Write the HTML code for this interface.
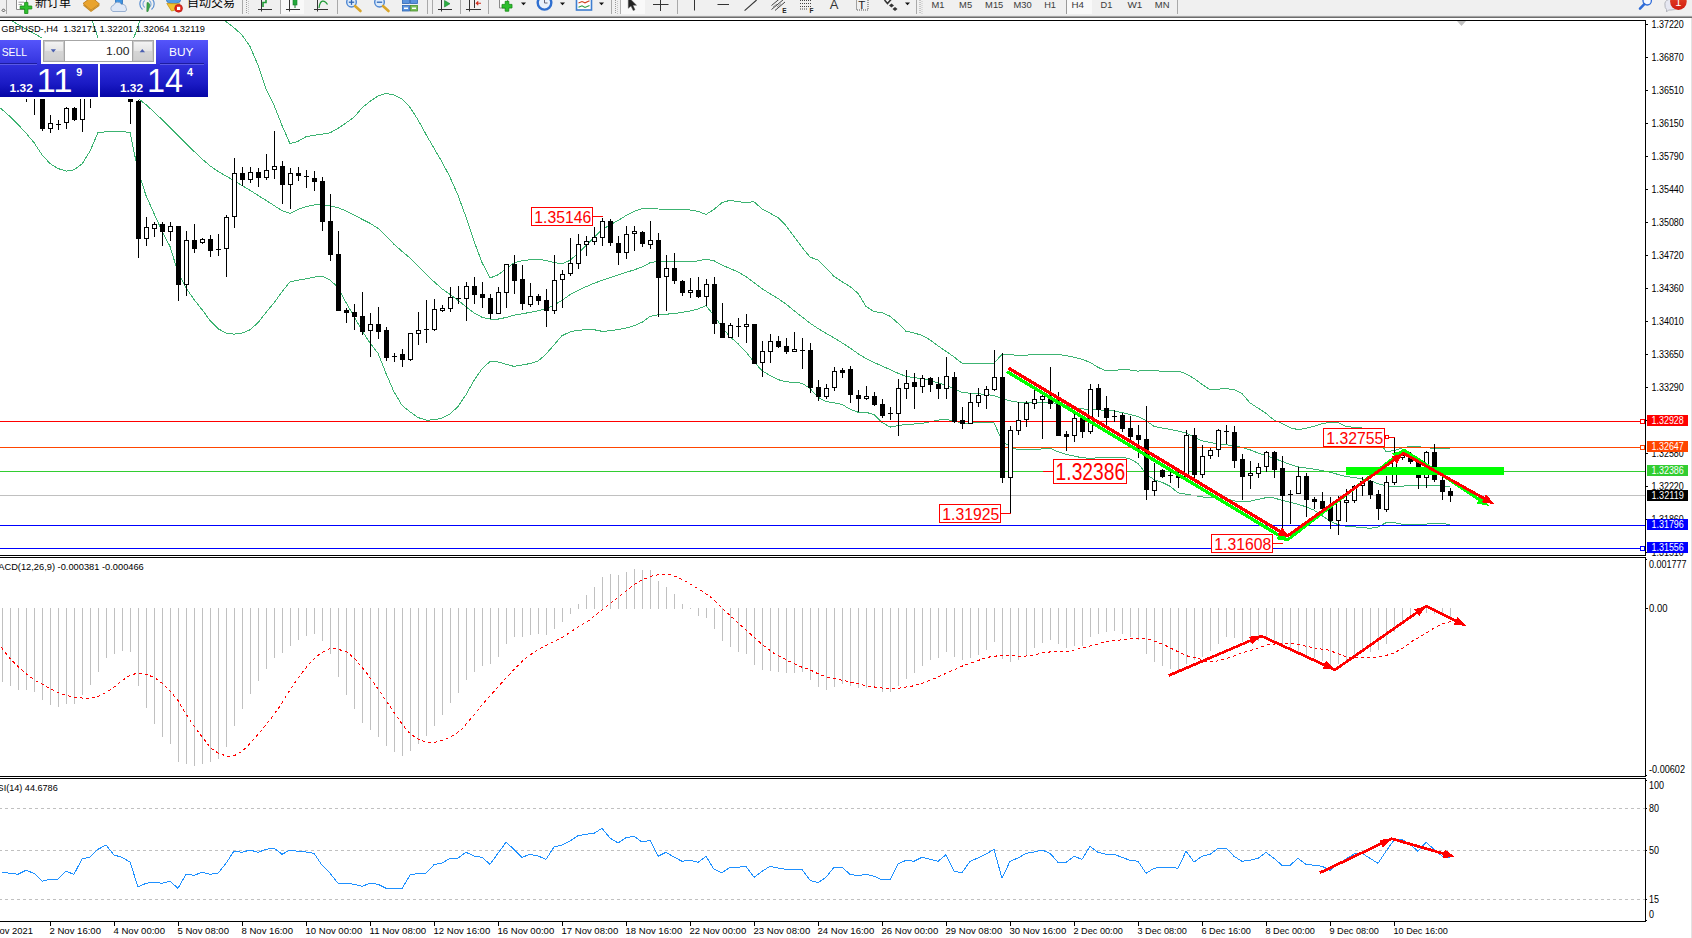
<!DOCTYPE html><html><head><meta charset="utf-8"><title>GBPUSD H4</title>
<style>html,body{margin:0;padding:0;background:#fff;overflow:hidden}svg{display:block;position:absolute;left:0;top:0}text{font-family:'Liberation Sans','Noto Sans CJK SC',sans-serif;white-space:pre}</style></head><body>
<svg width="1692" height="938" viewBox="0 0 1692 938">
<defs>
<linearGradient id="gSell" x1="0" y1="0" x2="0" y2="1"><stop offset="0" stop-color="#5555fb"/><stop offset="1" stop-color="#3434de"/></linearGradient>
<linearGradient id="gPrice" x1="0" y1="0" x2="0" y2="1"><stop offset="0" stop-color="#3030dc"/><stop offset="0.6" stop-color="#1a1ac4"/><stop offset="1" stop-color="#0606a6"/></linearGradient>
<linearGradient id="gBtn" x1="0" y1="0" x2="0" y2="1"><stop offset="0" stop-color="#f4f4f4"/><stop offset="0.5" stop-color="#e4e4e4"/><stop offset="0.5" stop-color="#d6d6d6"/><stop offset="1" stop-color="#cfcfcf"/></linearGradient>
<linearGradient id="gBadge" x1="0" y1="0" x2="0" y2="1"><stop offset="0" stop-color="#e84a2a"/><stop offset="1" stop-color="#d01c10"/></linearGradient>
<clipPath id="cMain"><rect x="0" y="21" width="1645" height="534"/></clipPath>
<clipPath id="cMacd"><rect x="0" y="558" width="1645" height="218"/></clipPath>
<clipPath id="cTb"><rect x="0" y="0" width="1692" height="15"/></clipPath>
<clipPath id="cRsi"><rect x="0" y="779" width="1645" height="142"/></clipPath>
</defs>
<rect x="0" y="0" width="1692" height="938" fill="#fff"/>
<g shape-rendering="crispEdges">
<rect x="0" y="20" width="1646" height="1" fill="#000"/>
<rect x="1645" y="20" width="1" height="902" fill="#000"/>
<rect x="0" y="555" width="1646" height="1" fill="#000"/>
<rect x="0" y="557" width="1646" height="1" fill="#000"/>
<rect x="0" y="776" width="1646" height="1" fill="#000"/>
<rect x="0" y="778" width="1646" height="1" fill="#000"/>
<rect x="0" y="921" width="1646" height="1" fill="#000"/>
<rect x="1691" y="17" width="1" height="921" fill="#e3e3e3"/>
<rect x="1645" y="556" width="1" height="1" fill="#fff"/><rect x="1645" y="777" width="1" height="1" fill="#fff"/>
</g>
<g clip-path="url(#cMain)">
<g shape-rendering="crispEdges">
<polyline points="88.0,8.0 90.0,14.3 98.0,37.7 106.0,57.6 114.0,61.9 122.0,60.0 130.0,48.0 138.0,26.4 143.0,8.0" fill="none" stroke="#3cb371" stroke-width="1"/>
<polyline points="221.0,14.0 226.0,21.5 234.0,27.8 242.0,34.9 250.0,46.5 258.0,65.2 266.0,89.2 274.0,105.3 282.0,125.4 290.0,143.7 298.0,141.3 306.0,136.7 314.0,135.2 322.0,134.2 330.0,132.9 338.0,128.3 346.0,122.9 354.0,117.3 362.0,107.9 370.0,101.4 378.0,96.0 386.0,93.4 394.0,94.9 402.0,98.9 410.0,107.3 418.0,119.8 426.0,134.4 434.0,148.3 442.0,161.9 450.0,177.1 458.0,195.3 466.0,217.0 474.0,241.2 482.0,262.4 490.0,278.0 498.0,274.8 506.0,269.0 514.0,262.8 522.0,260.8 530.0,259.7 538.0,259.2 546.0,260.6 554.0,262.5 562.0,263.9 570.0,260.3 578.0,253.4 586.0,245.4 594.0,237.3 602.0,229.7 610.0,224.8 618.0,220.6 626.0,215.6 634.0,211.3 642.0,208.8 650.0,208.6 658.0,209.0 666.0,209.2 674.0,209.3 682.0,209.5 690.0,210.0 698.0,211.3 706.0,214.5 714.0,209.4 722.0,202.6 730.0,200.3 738.0,201.8 746.0,202.4 754.0,201.8 762.0,208.9 770.0,213.2 778.0,217.7 786.0,225.7 794.0,236.5 802.0,247.2 810.0,257.1 818.0,260.0 826.0,267.7 834.0,276.4 842.0,281.7 850.0,286.5 858.0,293.3 866.0,306.4 874.0,311.7 882.0,312.6 890.0,316.2 898.0,323.2 906.0,331.3 914.0,332.9 922.0,335.4 930.0,339.8 938.0,345.8 946.0,351.3 954.0,356.9 962.0,363.2 970.0,363.6 978.0,363.7 986.0,363.7 994.0,363.3 1002.0,354.2 1010.0,354.7 1018.0,355.3 1026.0,355.2 1034.0,354.4 1042.0,354.2 1050.0,354.2 1058.0,354.3 1066.0,355.6 1074.0,357.2 1082.0,359.3 1090.0,362.3 1098.0,367.4 1106.0,370.8 1114.0,370.4 1122.0,369.7 1130.0,370.0 1138.0,371.1 1146.0,370.1 1154.0,370.1 1162.0,371.7 1170.0,371.5 1178.0,371.1 1186.0,373.8 1194.0,378.5 1202.0,384.3 1210.0,389.6 1218.0,389.2 1226.0,388.5 1234.0,389.7 1242.0,393.5 1250.0,402.9 1258.0,408.1 1266.0,413.4 1274.0,420.1 1282.0,423.3 1290.0,427.7 1298.0,429.6 1306.0,428.3 1314.0,426.4 1322.0,423.8 1330.0,422.1 1338.0,422.4 1346.0,426.5 1354.0,427.3 1362.0,428.0 1370.0,432.0 1378.0,440.0 1386.0,451.4 1394.0,450.8 1402.0,448.1 1410.0,446.4 1418.0,446.6 1426.0,447.8 1434.0,448.2 1442.0,448.2 1449.6,448.2" fill="none" stroke="#3cb371" stroke-width="1"/>
<polyline points="2.0,14.0 10.0,19.7 18.0,24.6 26.0,29.1 34.0,33.4 42.0,38.0 50.0,42.7 58.0,47.3 66.0,51.9 74.0,56.6 82.0,61.2 90.0,66.0 98.0,70.9 106.0,75.9 114.0,81.2 122.0,86.6 130.0,92.2 138.0,98.2 146.0,104.7 154.0,111.9 162.0,119.6 170.0,127.3 178.0,135.5 186.0,143.6 194.0,151.3 202.0,158.9 210.0,165.8 218.0,171.4 226.0,176.0 234.0,180.7 242.0,185.5 250.0,190.3 258.0,195.4 266.0,200.3 274.0,205.5 282.0,210.7 290.0,213.5 298.0,209.4 306.0,206.6 314.0,205.0 322.0,204.8 330.0,206.0 338.0,207.7 346.0,210.9 354.0,215.1 362.0,219.2 370.0,223.3 378.0,228.3 386.0,235.8 394.0,244.3 402.0,251.3 410.0,258.1 418.0,265.9 426.0,274.0 434.0,281.7 442.0,288.8 450.0,294.4 458.0,300.3 466.0,306.7 474.0,313.0 482.0,317.2 490.0,319.1 498.0,319.1 506.0,317.5 514.0,315.1 522.0,313.8 530.0,312.4 538.0,310.8 546.0,308.6 554.0,305.1 562.0,300.4 570.0,294.6 578.0,290.4 586.0,286.7 594.0,283.3 602.0,280.3 610.0,277.7 618.0,275.0 626.0,272.4 634.0,269.9 642.0,267.0 650.0,262.8 658.0,261.2 666.0,261.3 674.0,261.9 682.0,262.0 690.0,261.6 698.0,260.9 706.0,259.2 714.0,260.8 722.0,265.1 730.0,268.4 738.0,272.0 746.0,276.6 754.0,282.6 762.0,288.7 770.0,293.7 778.0,298.5 786.0,304.1 794.0,310.6 802.0,316.9 810.0,323.1 818.0,328.6 826.0,333.3 834.0,337.8 842.0,342.8 850.0,348.0 858.0,353.6 866.0,358.6 874.0,362.4 882.0,366.0 890.0,369.6 898.0,373.2 906.0,376.4 914.0,377.7 922.0,378.5 930.0,380.1 938.0,383.0 946.0,385.1 954.0,388.9 962.0,392.5 970.0,393.2 978.0,393.8 986.0,394.3 994.0,395.7 1002.0,398.6 1010.0,400.9 1018.0,402.2 1026.0,402.7 1034.0,402.4 1042.0,402.1 1050.0,402.3 1058.0,403.7 1066.0,405.5 1074.0,407.9 1082.0,408.9 1090.0,409.4 1098.0,409.8 1106.0,410.3 1114.0,411.0 1122.0,412.5 1130.0,414.5 1138.0,416.6 1146.0,420.6 1154.0,426.4 1162.0,428.1 1170.0,429.3 1178.0,431.0 1186.0,433.1 1194.0,437.0 1202.0,440.8 1210.0,442.5 1218.0,443.8 1226.0,444.8 1234.0,445.9 1242.0,447.3 1250.0,449.8 1258.0,453.0 1266.0,455.5 1274.0,458.3 1282.0,461.3 1290.0,464.5 1298.0,466.8 1306.0,468.0 1314.0,469.1 1322.0,470.6 1330.0,472.3 1338.0,474.4 1346.0,476.4 1354.0,477.6 1362.0,478.8 1370.0,480.6 1378.0,483.7 1386.0,485.9 1394.0,486.5 1402.0,486.2 1410.0,485.4 1418.0,485.3 1426.0,485.5 1434.0,485.7 1442.0,486.1 1449.6,486.5" fill="none" stroke="#3cb371" stroke-width="1"/>
<polyline points="0.0,107.8 2.0,109.4 10.0,116.5 18.0,124.5 26.0,133.1 34.0,142.6 42.0,154.7 50.0,163.6 58.0,168.5 66.0,171.1 74.0,169.9 82.0,164.0 90.0,151.1 98.0,132.6 106.0,131.8 114.0,131.4 122.0,131.5 130.0,132.5 138.0,170.9 146.0,195.5 154.0,213.6 162.0,231.0 170.0,246.5 178.0,272.4 186.0,287.9 194.0,299.5 202.0,309.6 210.0,320.4 218.0,328.7 226.0,333.1 234.0,334.1 242.0,333.1 250.0,329.8 258.0,322.7 266.0,312.4 274.0,302.9 282.0,291.8 290.0,281.8 298.0,280.2 306.0,278.8 314.0,277.1 322.0,276.2 330.0,280.0 338.0,287.4 346.0,302.5 354.0,316.4 362.0,330.7 370.0,342.9 378.0,353.3 386.0,373.4 394.0,391.9 402.0,405.3 410.0,411.8 418.0,417.5 426.0,420.1 434.0,419.9 442.0,418.1 450.0,414.0 458.0,406.6 466.0,394.7 474.0,380.5 482.0,368.8 490.0,361.5 498.0,361.9 506.0,364.2 514.0,366.4 522.0,365.1 530.0,363.5 538.0,361.1 546.0,354.2 554.0,344.9 562.0,335.7 570.0,331.9 578.0,330.3 586.0,329.7 594.0,329.7 602.0,331.3 610.0,330.8 618.0,329.6 626.0,328.0 634.0,325.8 642.0,322.3 650.0,316.4 658.0,314.7 666.0,314.2 674.0,313.6 682.0,312.3 690.0,311.0 698.0,309.0 706.0,305.7 714.0,315.4 722.0,327.1 730.0,336.8 738.0,343.7 746.0,352.0 754.0,362.0 762.0,370.6 770.0,375.6 778.0,379.6 786.0,381.8 794.0,382.4 802.0,383.2 810.0,388.5 818.0,397.2 826.0,401.5 834.0,402.7 842.0,404.4 850.0,409.2 858.0,412.2 866.0,412.2 874.0,414.7 882.0,422.3 890.0,427.1 898.0,425.6 906.0,424.3 914.0,424.0 922.0,423.5 930.0,421.9 938.0,420.1 946.0,419.4 954.0,420.8 962.0,423.3 970.0,423.1 978.0,422.8 986.0,422.4 994.0,422.8 1002.0,440.8 1010.0,446.7 1018.0,449.7 1026.0,450.0 1034.0,449.6 1042.0,448.9 1050.0,448.2 1058.0,451.8 1066.0,454.3 1074.0,456.1 1082.0,457.7 1090.0,458.3 1098.0,457.8 1106.0,457.5 1114.0,457.3 1122.0,457.2 1130.0,458.8 1138.0,463.4 1146.0,473.8 1154.0,479.7 1162.0,482.2 1170.0,486.2 1178.0,492.8 1186.0,494.2 1194.0,495.4 1202.0,496.9 1210.0,497.6 1218.0,497.9 1226.0,499.0 1234.0,500.8 1242.0,502.0 1250.0,501.2 1258.0,499.4 1266.0,497.7 1274.0,498.0 1282.0,500.3 1290.0,502.2 1298.0,504.3 1306.0,506.8 1314.0,510.1 1322.0,515.6 1330.0,521.3 1338.0,524.6 1346.0,526.3 1354.0,526.9 1362.0,527.4 1370.0,528.4 1378.0,527.0 1386.0,522.7 1394.0,522.7 1402.0,524.2 1410.0,524.7 1418.0,524.5 1426.0,524.1 1434.0,523.5 1442.0,523.5 1449.6,524.4" fill="none" stroke="#3cb371" stroke-width="1"/>
<rect x="0" y="421" width="1645" height="1" fill="#ff0000"/>
<rect x="0" y="447" width="1645" height="1" fill="#ff4500"/>
<rect x="0" y="471" width="1645" height="1" fill="#32cd32"/>
<rect x="0" y="495" width="1645" height="1" fill="#c0c0c0"/>
<rect x="0" y="525" width="1645" height="1" fill="#0000ff"/>
<rect x="0" y="548" width="1645" height="1" fill="#0000ff"/>
<rect x="26" y="90" width="1" height="12" fill="#000"/>
<rect x="34" y="90" width="1" height="25" fill="#000"/>
<rect x="42" y="90" width="1" height="41" fill="#000"/>
<rect x="40" y="90" width="5" height="39" fill="#000"/>
<rect x="50" y="115" width="1" height="18" fill="#000"/>
<rect x="48" y="123" width="5" height="6" fill="#000"/>
<rect x="49" y="124" width="3" height="4" fill="#fff"/>
<rect x="58" y="120" width="1" height="10" fill="#000"/>
<rect x="56" y="124" width="5" height="1" fill="#000"/>
<rect x="66" y="107" width="1" height="22" fill="#000"/>
<rect x="64" y="108" width="5" height="15" fill="#000"/>
<rect x="65" y="109" width="3" height="13" fill="#fff"/>
<rect x="74" y="107" width="1" height="14" fill="#000"/>
<rect x="72" y="108" width="5" height="12" fill="#000"/>
<rect x="82" y="90" width="1" height="42" fill="#000"/>
<rect x="80" y="90" width="5" height="30" fill="#000"/>
<rect x="81" y="91" width="3" height="28" fill="#fff"/>
<rect x="90" y="90" width="1" height="18" fill="#000"/>
<rect x="130" y="95" width="1" height="29" fill="#000"/>
<rect x="128" y="95" width="5" height="7" fill="#000"/>
<rect x="138" y="100" width="1" height="158" fill="#000"/>
<rect x="136" y="101" width="5" height="138" fill="#000"/>
<rect x="146" y="217" width="1" height="29" fill="#000"/>
<rect x="144" y="227" width="5" height="12" fill="#000"/>
<rect x="145" y="228" width="3" height="10" fill="#fff"/>
<rect x="154" y="222" width="1" height="15" fill="#000"/>
<rect x="152" y="224" width="5" height="5" fill="#000"/>
<rect x="153" y="225" width="3" height="3" fill="#fff"/>
<rect x="162" y="222" width="1" height="24" fill="#000"/>
<rect x="160" y="224" width="5" height="8" fill="#000"/>
<rect x="170" y="222" width="1" height="19" fill="#000"/>
<rect x="168" y="226" width="5" height="6" fill="#000"/>
<rect x="169" y="227" width="3" height="4" fill="#fff"/>
<rect x="178" y="226" width="1" height="75" fill="#000"/>
<rect x="176" y="226" width="5" height="59" fill="#000"/>
<rect x="186" y="231" width="1" height="65" fill="#000"/>
<rect x="184" y="240" width="5" height="45" fill="#000"/>
<rect x="185" y="241" width="3" height="43" fill="#fff"/>
<rect x="194" y="224" width="1" height="29" fill="#000"/>
<rect x="192" y="240" width="5" height="9" fill="#000"/>
<rect x="202" y="238" width="1" height="6" fill="#000"/>
<rect x="200" y="239" width="5" height="4" fill="#000"/>
<rect x="201" y="240" width="3" height="2" fill="#fff"/>
<rect x="210" y="235" width="1" height="22" fill="#000"/>
<rect x="208" y="239" width="5" height="12" fill="#000"/>
<rect x="218" y="234" width="1" height="22" fill="#000"/>
<rect x="216" y="249" width="5" height="1" fill="#000"/>
<rect x="226" y="215" width="1" height="62" fill="#000"/>
<rect x="224" y="217" width="5" height="32" fill="#000"/>
<rect x="225" y="218" width="3" height="30" fill="#fff"/>
<rect x="234" y="158" width="1" height="70" fill="#000"/>
<rect x="232" y="173" width="5" height="44" fill="#000"/>
<rect x="233" y="174" width="3" height="42" fill="#fff"/>
<rect x="242" y="167" width="1" height="19" fill="#000"/>
<rect x="240" y="173" width="5" height="7" fill="#000"/>
<rect x="250" y="167" width="1" height="16" fill="#000"/>
<rect x="248" y="172" width="5" height="8" fill="#000"/>
<rect x="249" y="173" width="3" height="6" fill="#fff"/>
<rect x="258" y="168" width="1" height="19" fill="#000"/>
<rect x="256" y="172" width="5" height="6" fill="#000"/>
<rect x="266" y="154" width="1" height="26" fill="#000"/>
<rect x="264" y="170" width="5" height="8" fill="#000"/>
<rect x="265" y="171" width="3" height="6" fill="#fff"/>
<rect x="274" y="131" width="1" height="48" fill="#000"/>
<rect x="272" y="166" width="5" height="4" fill="#000"/>
<rect x="273" y="167" width="3" height="2" fill="#fff"/>
<rect x="282" y="161" width="1" height="43" fill="#000"/>
<rect x="280" y="166" width="5" height="19" fill="#000"/>
<rect x="290" y="168" width="1" height="41" fill="#000"/>
<rect x="288" y="173" width="5" height="12" fill="#000"/>
<rect x="289" y="174" width="3" height="10" fill="#fff"/>
<rect x="298" y="167" width="1" height="14" fill="#000"/>
<rect x="296" y="173" width="5" height="3" fill="#000"/>
<rect x="306" y="170" width="1" height="18" fill="#000"/>
<rect x="304" y="176" width="5" height="1" fill="#000"/>
<rect x="314" y="171" width="1" height="20" fill="#000"/>
<rect x="312" y="178" width="5" height="4" fill="#000"/>
<rect x="322" y="177" width="1" height="54" fill="#000"/>
<rect x="320" y="181" width="5" height="41" fill="#000"/>
<rect x="330" y="194" width="1" height="67" fill="#000"/>
<rect x="328" y="221" width="5" height="34" fill="#000"/>
<rect x="338" y="231" width="1" height="80" fill="#000"/>
<rect x="336" y="254" width="5" height="57" fill="#000"/>
<rect x="346" y="308" width="1" height="15" fill="#000"/>
<rect x="344" y="310" width="5" height="3" fill="#000"/>
<rect x="354" y="304" width="1" height="26" fill="#000"/>
<rect x="352" y="312" width="5" height="5" fill="#000"/>
<rect x="362" y="292" width="1" height="43" fill="#000"/>
<rect x="360" y="316" width="5" height="16" fill="#000"/>
<rect x="370" y="313" width="1" height="44" fill="#000"/>
<rect x="368" y="324" width="5" height="7" fill="#000"/>
<rect x="369" y="325" width="3" height="5" fill="#fff"/>
<rect x="378" y="307" width="1" height="32" fill="#000"/>
<rect x="376" y="324" width="5" height="8" fill="#000"/>
<rect x="386" y="327" width="1" height="34" fill="#000"/>
<rect x="384" y="330" width="5" height="28" fill="#000"/>
<rect x="394" y="353" width="1" height="9" fill="#000"/>
<rect x="392" y="356" width="5" height="1" fill="#000"/>
<rect x="402" y="349" width="1" height="18" fill="#000"/>
<rect x="400" y="354" width="5" height="6" fill="#000"/>
<rect x="410" y="333" width="1" height="28" fill="#000"/>
<rect x="408" y="333" width="5" height="27" fill="#000"/>
<rect x="409" y="334" width="3" height="25" fill="#fff"/>
<rect x="418" y="312" width="1" height="33" fill="#000"/>
<rect x="416" y="330" width="5" height="4" fill="#000"/>
<rect x="417" y="331" width="3" height="2" fill="#fff"/>
<rect x="426" y="300" width="1" height="43" fill="#000"/>
<rect x="424" y="329" width="5" height="1" fill="#000"/>
<rect x="434" y="299" width="1" height="32" fill="#000"/>
<rect x="432" y="309" width="5" height="21" fill="#000"/>
<rect x="433" y="310" width="3" height="19" fill="#fff"/>
<rect x="442" y="305" width="1" height="7" fill="#000"/>
<rect x="440" y="308" width="5" height="3" fill="#000"/>
<rect x="441" y="309" width="3" height="1" fill="#fff"/>
<rect x="450" y="287" width="1" height="25" fill="#000"/>
<rect x="448" y="297" width="5" height="12" fill="#000"/>
<rect x="449" y="298" width="3" height="10" fill="#fff"/>
<rect x="458" y="286" width="1" height="18" fill="#000"/>
<rect x="456" y="298" width="5" height="1" fill="#000"/>
<rect x="466" y="282" width="1" height="39" fill="#000"/>
<rect x="464" y="286" width="5" height="13" fill="#000"/>
<rect x="465" y="287" width="3" height="11" fill="#fff"/>
<rect x="474" y="277" width="1" height="27" fill="#000"/>
<rect x="472" y="286" width="5" height="9" fill="#000"/>
<rect x="482" y="282" width="1" height="26" fill="#000"/>
<rect x="480" y="294" width="5" height="4" fill="#000"/>
<rect x="490" y="294" width="1" height="25" fill="#000"/>
<rect x="488" y="298" width="5" height="16" fill="#000"/>
<rect x="498" y="287" width="1" height="27" fill="#000"/>
<rect x="496" y="292" width="5" height="22" fill="#000"/>
<rect x="497" y="293" width="3" height="20" fill="#fff"/>
<rect x="506" y="264" width="1" height="44" fill="#000"/>
<rect x="504" y="264" width="5" height="29" fill="#000"/>
<rect x="505" y="265" width="3" height="27" fill="#fff"/>
<rect x="514" y="255" width="1" height="39" fill="#000"/>
<rect x="512" y="264" width="5" height="17" fill="#000"/>
<rect x="522" y="265" width="1" height="45" fill="#000"/>
<rect x="520" y="279" width="5" height="25" fill="#000"/>
<rect x="530" y="283" width="1" height="24" fill="#000"/>
<rect x="528" y="296" width="5" height="9" fill="#000"/>
<rect x="529" y="297" width="3" height="7" fill="#fff"/>
<rect x="538" y="294" width="1" height="11" fill="#000"/>
<rect x="536" y="296" width="5" height="5" fill="#000"/>
<rect x="546" y="289" width="1" height="38" fill="#000"/>
<rect x="544" y="300" width="5" height="11" fill="#000"/>
<rect x="554" y="255" width="1" height="59" fill="#000"/>
<rect x="552" y="280" width="5" height="31" fill="#000"/>
<rect x="553" y="281" width="3" height="29" fill="#fff"/>
<rect x="562" y="270" width="1" height="38" fill="#000"/>
<rect x="560" y="274" width="5" height="6" fill="#000"/>
<rect x="561" y="275" width="3" height="4" fill="#fff"/>
<rect x="570" y="238" width="1" height="38" fill="#000"/>
<rect x="568" y="263" width="5" height="11" fill="#000"/>
<rect x="569" y="264" width="3" height="9" fill="#fff"/>
<rect x="578" y="234" width="1" height="35" fill="#000"/>
<rect x="576" y="244" width="5" height="20" fill="#000"/>
<rect x="577" y="245" width="3" height="18" fill="#fff"/>
<rect x="586" y="236" width="1" height="20" fill="#000"/>
<rect x="584" y="241" width="5" height="4" fill="#000"/>
<rect x="585" y="242" width="3" height="2" fill="#fff"/>
<rect x="594" y="227" width="1" height="18" fill="#000"/>
<rect x="592" y="237" width="5" height="5" fill="#000"/>
<rect x="593" y="238" width="3" height="3" fill="#fff"/>
<rect x="602" y="218" width="1" height="28" fill="#000"/>
<rect x="600" y="221" width="5" height="17" fill="#000"/>
<rect x="601" y="222" width="3" height="15" fill="#fff"/>
<rect x="610" y="219" width="1" height="27" fill="#000"/>
<rect x="608" y="221" width="5" height="22" fill="#000"/>
<rect x="618" y="236" width="1" height="29" fill="#000"/>
<rect x="616" y="243" width="5" height="10" fill="#000"/>
<rect x="626" y="226" width="1" height="33" fill="#000"/>
<rect x="624" y="234" width="5" height="19" fill="#000"/>
<rect x="625" y="235" width="3" height="17" fill="#fff"/>
<rect x="634" y="226" width="1" height="25" fill="#000"/>
<rect x="632" y="231" width="5" height="3" fill="#000"/>
<rect x="633" y="232" width="3" height="1" fill="#fff"/>
<rect x="642" y="231" width="1" height="16" fill="#000"/>
<rect x="640" y="232" width="5" height="12" fill="#000"/>
<rect x="650" y="221" width="1" height="28" fill="#000"/>
<rect x="648" y="240" width="5" height="5" fill="#000"/>
<rect x="649" y="241" width="3" height="3" fill="#fff"/>
<rect x="658" y="233" width="1" height="84" fill="#000"/>
<rect x="656" y="240" width="5" height="38" fill="#000"/>
<rect x="666" y="255" width="1" height="56" fill="#000"/>
<rect x="664" y="268" width="5" height="9" fill="#000"/>
<rect x="665" y="269" width="3" height="7" fill="#fff"/>
<rect x="674" y="253" width="1" height="31" fill="#000"/>
<rect x="672" y="268" width="5" height="13" fill="#000"/>
<rect x="682" y="280" width="1" height="16" fill="#000"/>
<rect x="680" y="281" width="5" height="12" fill="#000"/>
<rect x="690" y="278" width="1" height="20" fill="#000"/>
<rect x="688" y="290" width="5" height="3" fill="#000"/>
<rect x="689" y="291" width="3" height="1" fill="#fff"/>
<rect x="698" y="277" width="1" height="21" fill="#000"/>
<rect x="696" y="290" width="5" height="7" fill="#000"/>
<rect x="706" y="279" width="1" height="27" fill="#000"/>
<rect x="704" y="284" width="5" height="13" fill="#000"/>
<rect x="705" y="285" width="3" height="11" fill="#fff"/>
<rect x="714" y="277" width="1" height="57" fill="#000"/>
<rect x="712" y="284" width="5" height="40" fill="#000"/>
<rect x="722" y="303" width="1" height="35" fill="#000"/>
<rect x="720" y="323" width="5" height="15" fill="#000"/>
<rect x="730" y="323" width="1" height="15" fill="#000"/>
<rect x="728" y="325" width="5" height="13" fill="#000"/>
<rect x="729" y="326" width="3" height="11" fill="#fff"/>
<rect x="738" y="318" width="1" height="19" fill="#000"/>
<rect x="736" y="326" width="5" height="1" fill="#000"/>
<rect x="746" y="314" width="1" height="29" fill="#000"/>
<rect x="744" y="324" width="5" height="3" fill="#000"/>
<rect x="745" y="325" width="3" height="1" fill="#fff"/>
<rect x="754" y="324" width="1" height="40" fill="#000"/>
<rect x="752" y="324" width="5" height="40" fill="#000"/>
<rect x="762" y="341" width="1" height="36" fill="#000"/>
<rect x="760" y="351" width="5" height="12" fill="#000"/>
<rect x="761" y="352" width="3" height="10" fill="#fff"/>
<rect x="770" y="334" width="1" height="29" fill="#000"/>
<rect x="768" y="341" width="5" height="11" fill="#000"/>
<rect x="769" y="342" width="3" height="9" fill="#fff"/>
<rect x="778" y="336" width="1" height="12" fill="#000"/>
<rect x="776" y="341" width="5" height="6" fill="#000"/>
<rect x="786" y="338" width="1" height="16" fill="#000"/>
<rect x="784" y="346" width="5" height="6" fill="#000"/>
<rect x="794" y="332" width="1" height="20" fill="#000"/>
<rect x="792" y="349" width="5" height="3" fill="#000"/>
<rect x="793" y="350" width="3" height="1" fill="#fff"/>
<rect x="802" y="338" width="1" height="31" fill="#000"/>
<rect x="800" y="350" width="5" height="1" fill="#000"/>
<rect x="810" y="343" width="1" height="50" fill="#000"/>
<rect x="808" y="350" width="5" height="38" fill="#000"/>
<rect x="818" y="380" width="1" height="21" fill="#000"/>
<rect x="816" y="387" width="5" height="10" fill="#000"/>
<rect x="826" y="384" width="1" height="15" fill="#000"/>
<rect x="824" y="388" width="5" height="9" fill="#000"/>
<rect x="825" y="389" width="3" height="7" fill="#fff"/>
<rect x="834" y="367" width="1" height="24" fill="#000"/>
<rect x="832" y="371" width="5" height="17" fill="#000"/>
<rect x="833" y="372" width="3" height="15" fill="#fff"/>
<rect x="842" y="368" width="1" height="10" fill="#000"/>
<rect x="840" y="370" width="5" height="3" fill="#000"/>
<rect x="850" y="366" width="1" height="37" fill="#000"/>
<rect x="848" y="369" width="5" height="26" fill="#000"/>
<rect x="858" y="390" width="1" height="22" fill="#000"/>
<rect x="856" y="395" width="5" height="4" fill="#000"/>
<rect x="866" y="386" width="1" height="14" fill="#000"/>
<rect x="864" y="396" width="5" height="3" fill="#000"/>
<rect x="865" y="397" width="3" height="1" fill="#fff"/>
<rect x="874" y="392" width="1" height="14" fill="#000"/>
<rect x="872" y="396" width="5" height="9" fill="#000"/>
<rect x="882" y="399" width="1" height="19" fill="#000"/>
<rect x="880" y="404" width="5" height="12" fill="#000"/>
<rect x="890" y="407" width="1" height="13" fill="#000"/>
<rect x="888" y="413" width="5" height="1" fill="#000"/>
<rect x="898" y="379" width="1" height="57" fill="#000"/>
<rect x="896" y="388" width="5" height="26" fill="#000"/>
<rect x="897" y="389" width="3" height="24" fill="#fff"/>
<rect x="906" y="370" width="1" height="29" fill="#000"/>
<rect x="904" y="383" width="5" height="6" fill="#000"/>
<rect x="905" y="384" width="3" height="4" fill="#fff"/>
<rect x="914" y="373" width="1" height="36" fill="#000"/>
<rect x="912" y="382" width="5" height="5" fill="#000"/>
<rect x="922" y="375" width="1" height="18" fill="#000"/>
<rect x="920" y="378" width="5" height="9" fill="#000"/>
<rect x="921" y="379" width="3" height="7" fill="#fff"/>
<rect x="930" y="377" width="1" height="15" fill="#000"/>
<rect x="928" y="378" width="5" height="7" fill="#000"/>
<rect x="938" y="377" width="1" height="22" fill="#000"/>
<rect x="936" y="384" width="5" height="5" fill="#000"/>
<rect x="946" y="357" width="1" height="42" fill="#000"/>
<rect x="944" y="376" width="5" height="13" fill="#000"/>
<rect x="945" y="377" width="3" height="11" fill="#fff"/>
<rect x="954" y="372" width="1" height="51" fill="#000"/>
<rect x="952" y="377" width="5" height="45" fill="#000"/>
<rect x="962" y="407" width="1" height="22" fill="#000"/>
<rect x="960" y="420" width="5" height="4" fill="#000"/>
<rect x="970" y="393" width="1" height="31" fill="#000"/>
<rect x="968" y="402" width="5" height="22" fill="#000"/>
<rect x="969" y="403" width="3" height="20" fill="#fff"/>
<rect x="978" y="388" width="1" height="19" fill="#000"/>
<rect x="976" y="395" width="5" height="8" fill="#000"/>
<rect x="977" y="396" width="3" height="6" fill="#fff"/>
<rect x="986" y="386" width="1" height="23" fill="#000"/>
<rect x="984" y="389" width="5" height="7" fill="#000"/>
<rect x="985" y="390" width="3" height="5" fill="#fff"/>
<rect x="994" y="350" width="1" height="41" fill="#000"/>
<rect x="992" y="377" width="5" height="13" fill="#000"/>
<rect x="993" y="378" width="3" height="11" fill="#fff"/>
<rect x="1002" y="353" width="1" height="130" fill="#000"/>
<rect x="1000" y="377" width="5" height="101" fill="#000"/>
<rect x="1010" y="426" width="1" height="88" fill="#000"/>
<rect x="1008" y="430" width="5" height="48" fill="#000"/>
<rect x="1009" y="431" width="3" height="46" fill="#fff"/>
<rect x="1018" y="402" width="1" height="33" fill="#000"/>
<rect x="1016" y="420" width="5" height="11" fill="#000"/>
<rect x="1017" y="421" width="3" height="9" fill="#fff"/>
<rect x="1026" y="401" width="1" height="26" fill="#000"/>
<rect x="1024" y="403" width="5" height="17" fill="#000"/>
<rect x="1025" y="404" width="3" height="15" fill="#fff"/>
<rect x="1034" y="389" width="1" height="20" fill="#000"/>
<rect x="1032" y="399" width="5" height="5" fill="#000"/>
<rect x="1033" y="400" width="3" height="3" fill="#fff"/>
<rect x="1042" y="393" width="1" height="46" fill="#000"/>
<rect x="1040" y="396" width="5" height="4" fill="#000"/>
<rect x="1041" y="397" width="3" height="2" fill="#fff"/>
<rect x="1050" y="367" width="1" height="42" fill="#000"/>
<rect x="1048" y="399" width="5" height="5" fill="#000"/>
<rect x="1058" y="392" width="1" height="44" fill="#000"/>
<rect x="1056" y="404" width="5" height="32" fill="#000"/>
<rect x="1066" y="431" width="1" height="20" fill="#000"/>
<rect x="1064" y="434" width="5" height="3" fill="#000"/>
<rect x="1074" y="414" width="1" height="28" fill="#000"/>
<rect x="1072" y="418" width="5" height="18" fill="#000"/>
<rect x="1073" y="419" width="3" height="16" fill="#fff"/>
<rect x="1082" y="418" width="1" height="20" fill="#000"/>
<rect x="1080" y="418" width="5" height="14" fill="#000"/>
<rect x="1090" y="384" width="1" height="50" fill="#000"/>
<rect x="1088" y="389" width="5" height="43" fill="#000"/>
<rect x="1089" y="390" width="3" height="41" fill="#fff"/>
<rect x="1098" y="384" width="1" height="33" fill="#000"/>
<rect x="1096" y="388" width="5" height="22" fill="#000"/>
<rect x="1106" y="396" width="1" height="30" fill="#000"/>
<rect x="1104" y="408" width="5" height="10" fill="#000"/>
<rect x="1114" y="410" width="1" height="12" fill="#000"/>
<rect x="1112" y="416" width="5" height="1" fill="#000"/>
<rect x="1122" y="413" width="1" height="19" fill="#000"/>
<rect x="1120" y="415" width="5" height="14" fill="#000"/>
<rect x="1130" y="416" width="1" height="24" fill="#000"/>
<rect x="1128" y="428" width="5" height="9" fill="#000"/>
<rect x="1138" y="425" width="1" height="33" fill="#000"/>
<rect x="1136" y="435" width="5" height="5" fill="#000"/>
<rect x="1146" y="406" width="1" height="94" fill="#000"/>
<rect x="1144" y="439" width="5" height="51" fill="#000"/>
<rect x="1154" y="463" width="1" height="33" fill="#000"/>
<rect x="1152" y="481" width="5" height="10" fill="#000"/>
<rect x="1153" y="482" width="3" height="8" fill="#fff"/>
<rect x="1162" y="469" width="1" height="9" fill="#000"/>
<rect x="1160" y="470" width="5" height="7" fill="#000"/>
<rect x="1170" y="471" width="1" height="12" fill="#000"/>
<rect x="1168" y="475" width="5" height="1" fill="#000"/>
<rect x="1178" y="470" width="1" height="18" fill="#000"/>
<rect x="1176" y="475" width="5" height="3" fill="#000"/>
<rect x="1186" y="430" width="1" height="47" fill="#000"/>
<rect x="1184" y="435" width="5" height="42" fill="#000"/>
<rect x="1185" y="436" width="3" height="40" fill="#fff"/>
<rect x="1194" y="428" width="1" height="51" fill="#000"/>
<rect x="1192" y="435" width="5" height="40" fill="#000"/>
<rect x="1202" y="445" width="1" height="33" fill="#000"/>
<rect x="1200" y="456" width="5" height="19" fill="#000"/>
<rect x="1201" y="457" width="3" height="17" fill="#fff"/>
<rect x="1210" y="448" width="1" height="11" fill="#000"/>
<rect x="1208" y="450" width="5" height="6" fill="#000"/>
<rect x="1209" y="451" width="3" height="4" fill="#fff"/>
<rect x="1218" y="429" width="1" height="28" fill="#000"/>
<rect x="1216" y="430" width="5" height="20" fill="#000"/>
<rect x="1217" y="431" width="3" height="18" fill="#fff"/>
<rect x="1226" y="425" width="1" height="19" fill="#000"/>
<rect x="1224" y="431" width="5" height="1" fill="#000"/>
<rect x="1234" y="426" width="1" height="42" fill="#000"/>
<rect x="1232" y="432" width="5" height="29" fill="#000"/>
<rect x="1242" y="454" width="1" height="46" fill="#000"/>
<rect x="1240" y="459" width="5" height="18" fill="#000"/>
<rect x="1250" y="461" width="1" height="28" fill="#000"/>
<rect x="1248" y="473" width="5" height="3" fill="#000"/>
<rect x="1249" y="474" width="3" height="1" fill="#fff"/>
<rect x="1258" y="463" width="1" height="15" fill="#000"/>
<rect x="1256" y="467" width="5" height="7" fill="#000"/>
<rect x="1257" y="468" width="3" height="5" fill="#fff"/>
<rect x="1266" y="451" width="1" height="21" fill="#000"/>
<rect x="1264" y="452" width="5" height="15" fill="#000"/>
<rect x="1265" y="453" width="3" height="13" fill="#fff"/>
<rect x="1274" y="451" width="1" height="27" fill="#000"/>
<rect x="1272" y="452" width="5" height="18" fill="#000"/>
<rect x="1282" y="456" width="1" height="83" fill="#000"/>
<rect x="1280" y="468" width="5" height="28" fill="#000"/>
<rect x="1290" y="490" width="1" height="34" fill="#000"/>
<rect x="1288" y="494" width="5" height="1" fill="#000"/>
<rect x="1298" y="467" width="1" height="27" fill="#000"/>
<rect x="1296" y="476" width="5" height="18" fill="#000"/>
<rect x="1297" y="477" width="3" height="16" fill="#fff"/>
<rect x="1306" y="473" width="1" height="44" fill="#000"/>
<rect x="1304" y="476" width="5" height="24" fill="#000"/>
<rect x="1314" y="497" width="1" height="12" fill="#000"/>
<rect x="1312" y="499" width="5" height="3" fill="#000"/>
<rect x="1322" y="492" width="1" height="17" fill="#000"/>
<rect x="1320" y="501" width="5" height="8" fill="#000"/>
<rect x="1330" y="497" width="1" height="32" fill="#000"/>
<rect x="1328" y="507" width="5" height="14" fill="#000"/>
<rect x="1338" y="496" width="1" height="39" fill="#000"/>
<rect x="1336" y="501" width="5" height="20" fill="#000"/>
<rect x="1337" y="502" width="3" height="18" fill="#fff"/>
<rect x="1346" y="489" width="1" height="33" fill="#000"/>
<rect x="1344" y="500" width="5" height="3" fill="#000"/>
<rect x="1345" y="501" width="3" height="1" fill="#fff"/>
<rect x="1354" y="485" width="1" height="18" fill="#000"/>
<rect x="1352" y="486" width="5" height="15" fill="#000"/>
<rect x="1353" y="487" width="3" height="13" fill="#fff"/>
<rect x="1362" y="477" width="1" height="19" fill="#000"/>
<rect x="1360" y="481" width="5" height="5" fill="#000"/>
<rect x="1361" y="482" width="3" height="3" fill="#fff"/>
<rect x="1370" y="480" width="1" height="19" fill="#000"/>
<rect x="1368" y="481" width="5" height="14" fill="#000"/>
<rect x="1378" y="490" width="1" height="30" fill="#000"/>
<rect x="1376" y="494" width="5" height="15" fill="#000"/>
<rect x="1386" y="476" width="1" height="36" fill="#000"/>
<rect x="1384" y="482" width="5" height="28" fill="#000"/>
<rect x="1385" y="483" width="3" height="26" fill="#fff"/>
<rect x="1394" y="438" width="1" height="47" fill="#000"/>
<rect x="1392" y="456" width="5" height="27" fill="#000"/>
<rect x="1393" y="457" width="3" height="25" fill="#fff"/>
<rect x="1402" y="452" width="1" height="8" fill="#000"/>
<rect x="1400" y="455" width="5" height="3" fill="#000"/>
<rect x="1401" y="456" width="3" height="1" fill="#fff"/>
<rect x="1410" y="452" width="1" height="12" fill="#000"/>
<rect x="1408" y="457" width="5" height="5" fill="#000"/>
<rect x="1418" y="462" width="1" height="27" fill="#000"/>
<rect x="1416" y="462" width="5" height="16" fill="#000"/>
<rect x="1426" y="451" width="1" height="37" fill="#000"/>
<rect x="1424" y="452" width="5" height="26" fill="#000"/>
<rect x="1425" y="453" width="3" height="24" fill="#fff"/>
<rect x="1434" y="444" width="1" height="38" fill="#000"/>
<rect x="1432" y="452" width="5" height="28" fill="#000"/>
<rect x="1442" y="473" width="1" height="27" fill="#000"/>
<rect x="1440" y="480" width="5" height="12" fill="#000"/>
<rect x="1450" y="488" width="1" height="14" fill="#000"/>
<rect x="1448" y="491" width="5" height="5" fill="#000"/>
<rect x="1640.5" y="419.5" width="4" height="4" fill="#fff" stroke="#ff0000" stroke-width="1"/>
<rect x="1640.5" y="445.5" width="4" height="4" fill="#fff" stroke="#ff4500" stroke-width="1"/>
<rect x="1640.5" y="546.5" width="4" height="4" fill="#fff" stroke="#0000ff" stroke-width="1"/>
<rect x="1346" y="467" width="158" height="8" fill="#00ff00"/>
<polygon points="1457,21 1466,21 1461.5,26" fill="#c0c0c0" shape-rendering="auto"/>
</g>
<g shape-rendering="crispEdges">
<rect x="593" y="216" width="10" height="1" fill="#ff0000"/>
<rect x="1001" y="513" width="10" height="1" fill="#ff0000"/>
<rect x="1273" y="543" width="10" height="1" fill="#ff0000"/>
<rect x="1043" y="471" width="10" height="1" fill="#ff0000"/>
<rect x="1388" y="437" width="7" height="1" fill="#ff0000"/>
<rect x="1385.5" y="435.5" width="3" height="3" fill="#fff" stroke="#ff0000"/>
</g>
<rect x="531.5" y="207.5" width="61" height="18" fill="#fff" stroke="#ff0000" stroke-width="1" shape-rendering="crispEdges"/>
<text x="534.3" y="222.6" font-size="16.5" fill="#ff0000" textLength="57" lengthAdjust="spacingAndGlyphs" >1.35146</text>
<rect x="939.5" y="504.5" width="61" height="18" fill="#fff" stroke="#ff0000" stroke-width="1" shape-rendering="crispEdges"/>
<text x="942.3" y="520" font-size="16.5" fill="#ff0000" textLength="57" lengthAdjust="spacingAndGlyphs" >1.31925</text>
<rect x="1211.5" y="534.5" width="61" height="18" fill="#fff" stroke="#ff0000" stroke-width="1" shape-rendering="crispEdges"/>
<text x="1214.3" y="550" font-size="16.5" fill="#ff0000" textLength="57" lengthAdjust="spacingAndGlyphs" >1.31608</text>
<rect x="1323.5" y="428.5" width="61" height="18" fill="#fff" stroke="#ff0000" stroke-width="1" shape-rendering="crispEdges"/>
<text x="1326.3" y="444" font-size="16.5" fill="#ff0000" textLength="57" lengthAdjust="spacingAndGlyphs" >1.32755</text>
<rect x="1053.5" y="459.5" width="73" height="24" fill="#fff" stroke="#ff0000" stroke-width="1" shape-rendering="crispEdges"/>
<text x="1055.6" y="480" font-size="23" fill="#ff0000" textLength="69.5" lengthAdjust="spacingAndGlyphs" >1.32386</text>
<polyline points="1007.0,371.6 1283.6,538.1" fill="none" stroke="#00ff00" stroke-width="3.3" stroke-linejoin="round" shape-rendering="crispEdges"/>
<polygon points="1288.7,541.2 1276.4,539.2 1281.1,531.3" fill="#00ff00" shape-rendering="crispEdges"/>
<polyline points="1287.2,540.2 1404.0,450.0 1484.0,502.7" fill="none" stroke="#00ff00" stroke-width="2.9" stroke-linejoin="round" shape-rendering="crispEdges"/>
<polygon points="1404.0,450.0 1397.6,460.7 1392.0,453.4" fill="#00ff00" shape-rendering="crispEdges"/>
<polygon points="1489.0,506.0 1476.8,503.5 1481.8,495.8" fill="#00ff00" shape-rendering="crispEdges"/>
<polyline points="1008.5,368.1 1284.4,534.1" fill="none" stroke="#ff0000" stroke-width="3.3" stroke-linejoin="round" shape-rendering="crispEdges"/>
<polygon points="1289.5,537.2 1277.2,535.2 1281.9,527.3" fill="#ff0000" shape-rendering="crispEdges"/>
<polyline points="1287.8,535.7 1403.5,453.3 1488.8,501.1" fill="none" stroke="#ff0000" stroke-width="2.9" stroke-linejoin="round" shape-rendering="crispEdges"/>
<polygon points="1403.5,453.3 1396.7,463.8 1391.4,456.3" fill="#ff0000" shape-rendering="crispEdges"/>
<polygon points="1494.0,504.0 1481.6,502.3 1486.1,494.3" fill="#ff0000" shape-rendering="crispEdges"/>
</g>
<g clip-path="url(#cMacd)">
<g shape-rendering="crispEdges">
<rect x="2" y="608" width="1" height="74" fill="#c0c0c0"/>
<rect x="10" y="608" width="1" height="78" fill="#c0c0c0"/>
<rect x="18" y="608" width="1" height="82" fill="#c0c0c0"/>
<rect x="26" y="608" width="1" height="82" fill="#c0c0c0"/>
<rect x="34" y="608" width="1" height="84" fill="#c0c0c0"/>
<rect x="42" y="608" width="1" height="92" fill="#c0c0c0"/>
<rect x="50" y="608" width="1" height="97" fill="#c0c0c0"/>
<rect x="58" y="608" width="1" height="99" fill="#c0c0c0"/>
<rect x="66" y="608" width="1" height="96" fill="#c0c0c0"/>
<rect x="74" y="608" width="1" height="96" fill="#c0c0c0"/>
<rect x="82" y="608" width="1" height="87" fill="#c0c0c0"/>
<rect x="90" y="608" width="1" height="77" fill="#c0c0c0"/>
<rect x="98" y="608" width="1" height="64" fill="#c0c0c0"/>
<rect x="106" y="608" width="1" height="50" fill="#c0c0c0"/>
<rect x="114" y="608" width="1" height="46" fill="#c0c0c0"/>
<rect x="122" y="608" width="1" height="43" fill="#c0c0c0"/>
<rect x="130" y="608" width="1" height="44" fill="#c0c0c0"/>
<rect x="138" y="608" width="1" height="78" fill="#c0c0c0"/>
<rect x="146" y="608" width="1" height="100" fill="#c0c0c0"/>
<rect x="154" y="608" width="1" height="116" fill="#c0c0c0"/>
<rect x="162" y="608" width="1" height="129" fill="#c0c0c0"/>
<rect x="170" y="608" width="1" height="136" fill="#c0c0c0"/>
<rect x="178" y="608" width="1" height="154" fill="#c0c0c0"/>
<rect x="186" y="608" width="1" height="156" fill="#c0c0c0"/>
<rect x="194" y="608" width="1" height="158" fill="#c0c0c0"/>
<rect x="202" y="608" width="1" height="156" fill="#c0c0c0"/>
<rect x="210" y="608" width="1" height="154" fill="#c0c0c0"/>
<rect x="218" y="608" width="1" height="151" fill="#c0c0c0"/>
<rect x="226" y="608" width="1" height="139" fill="#c0c0c0"/>
<rect x="234" y="608" width="1" height="118" fill="#c0c0c0"/>
<rect x="242" y="608" width="1" height="101" fill="#c0c0c0"/>
<rect x="250" y="608" width="1" height="86" fill="#c0c0c0"/>
<rect x="258" y="608" width="1" height="73" fill="#c0c0c0"/>
<rect x="266" y="608" width="1" height="61" fill="#c0c0c0"/>
<rect x="274" y="608" width="1" height="50" fill="#c0c0c0"/>
<rect x="282" y="608" width="1" height="45" fill="#c0c0c0"/>
<rect x="290" y="608" width="1" height="38" fill="#c0c0c0"/>
<rect x="298" y="608" width="1" height="32" fill="#c0c0c0"/>
<rect x="306" y="608" width="1" height="28" fill="#c0c0c0"/>
<rect x="314" y="608" width="1" height="26" fill="#c0c0c0"/>
<rect x="322" y="608" width="1" height="33" fill="#c0c0c0"/>
<rect x="330" y="608" width="1" height="46" fill="#c0c0c0"/>
<rect x="338" y="608" width="1" height="69" fill="#c0c0c0"/>
<rect x="346" y="608" width="1" height="87" fill="#c0c0c0"/>
<rect x="354" y="608" width="1" height="101" fill="#c0c0c0"/>
<rect x="362" y="608" width="1" height="115" fill="#c0c0c0"/>
<rect x="370" y="608" width="1" height="122" fill="#c0c0c0"/>
<rect x="378" y="608" width="1" height="129" fill="#c0c0c0"/>
<rect x="386" y="608" width="1" height="138" fill="#c0c0c0"/>
<rect x="394" y="608" width="1" height="144" fill="#c0c0c0"/>
<rect x="402" y="608" width="1" height="148" fill="#c0c0c0"/>
<rect x="410" y="608" width="1" height="143" fill="#c0c0c0"/>
<rect x="418" y="608" width="1" height="136" fill="#c0c0c0"/>
<rect x="426" y="608" width="1" height="128" fill="#c0c0c0"/>
<rect x="434" y="608" width="1" height="118" fill="#c0c0c0"/>
<rect x="442" y="608" width="1" height="107" fill="#c0c0c0"/>
<rect x="450" y="608" width="1" height="95" fill="#c0c0c0"/>
<rect x="458" y="608" width="1" height="85" fill="#c0c0c0"/>
<rect x="466" y="608" width="1" height="72" fill="#c0c0c0"/>
<rect x="474" y="608" width="1" height="64" fill="#c0c0c0"/>
<rect x="482" y="608" width="1" height="58" fill="#c0c0c0"/>
<rect x="490" y="608" width="1" height="56" fill="#c0c0c0"/>
<rect x="498" y="608" width="1" height="49" fill="#c0c0c0"/>
<rect x="506" y="608" width="1" height="36" fill="#c0c0c0"/>
<rect x="514" y="608" width="1" height="29" fill="#c0c0c0"/>
<rect x="522" y="608" width="1" height="29" fill="#c0c0c0"/>
<rect x="530" y="608" width="1" height="27" fill="#c0c0c0"/>
<rect x="538" y="608" width="1" height="26" fill="#c0c0c0"/>
<rect x="546" y="608" width="1" height="27" fill="#c0c0c0"/>
<rect x="554" y="608" width="1" height="21" fill="#c0c0c0"/>
<rect x="562" y="608" width="1" height="14" fill="#c0c0c0"/>
<rect x="570" y="608" width="1" height="6" fill="#c0c0c0"/>
<rect x="578" y="604" width="1" height="5" fill="#c0c0c0"/>
<rect x="586" y="595" width="1" height="14" fill="#c0c0c0"/>
<rect x="594" y="587" width="1" height="22" fill="#c0c0c0"/>
<rect x="602" y="577" width="1" height="32" fill="#c0c0c0"/>
<rect x="610" y="574" width="1" height="35" fill="#c0c0c0"/>
<rect x="618" y="575" width="1" height="34" fill="#c0c0c0"/>
<rect x="626" y="572" width="1" height="37" fill="#c0c0c0"/>
<rect x="634" y="569" width="1" height="40" fill="#c0c0c0"/>
<rect x="642" y="570" width="1" height="39" fill="#c0c0c0"/>
<rect x="650" y="570" width="1" height="39" fill="#c0c0c0"/>
<rect x="658" y="581" width="1" height="28" fill="#c0c0c0"/>
<rect x="666" y="587" width="1" height="22" fill="#c0c0c0"/>
<rect x="674" y="594" width="1" height="15" fill="#c0c0c0"/>
<rect x="682" y="604" width="1" height="5" fill="#c0c0c0"/>
<rect x="690" y="608" width="1" height="1" fill="#c0c0c0"/>
<rect x="698" y="608" width="1" height="8" fill="#c0c0c0"/>
<rect x="706" y="608" width="1" height="10" fill="#c0c0c0"/>
<rect x="714" y="608" width="1" height="21" fill="#c0c0c0"/>
<rect x="722" y="608" width="1" height="33" fill="#c0c0c0"/>
<rect x="730" y="608" width="1" height="39" fill="#c0c0c0"/>
<rect x="738" y="608" width="1" height="44" fill="#c0c0c0"/>
<rect x="746" y="608" width="1" height="46" fill="#c0c0c0"/>
<rect x="754" y="608" width="1" height="57" fill="#c0c0c0"/>
<rect x="762" y="608" width="1" height="62" fill="#c0c0c0"/>
<rect x="770" y="608" width="1" height="63" fill="#c0c0c0"/>
<rect x="778" y="608" width="1" height="64" fill="#c0c0c0"/>
<rect x="786" y="608" width="1" height="65" fill="#c0c0c0"/>
<rect x="794" y="608" width="1" height="65" fill="#c0c0c0"/>
<rect x="802" y="608" width="1" height="64" fill="#c0c0c0"/>
<rect x="810" y="608" width="1" height="72" fill="#c0c0c0"/>
<rect x="818" y="608" width="1" height="79" fill="#c0c0c0"/>
<rect x="826" y="608" width="1" height="82" fill="#c0c0c0"/>
<rect x="834" y="608" width="1" height="79" fill="#c0c0c0"/>
<rect x="842" y="608" width="1" height="76" fill="#c0c0c0"/>
<rect x="850" y="608" width="1" height="78" fill="#c0c0c0"/>
<rect x="858" y="608" width="1" height="80" fill="#c0c0c0"/>
<rect x="866" y="608" width="1" height="80" fill="#c0c0c0"/>
<rect x="874" y="608" width="1" height="80" fill="#c0c0c0"/>
<rect x="882" y="608" width="1" height="84" fill="#c0c0c0"/>
<rect x="890" y="608" width="1" height="84" fill="#c0c0c0"/>
<rect x="898" y="608" width="1" height="78" fill="#c0c0c0"/>
<rect x="906" y="608" width="1" height="71" fill="#c0c0c0"/>
<rect x="914" y="608" width="1" height="65" fill="#c0c0c0"/>
<rect x="922" y="608" width="1" height="58" fill="#c0c0c0"/>
<rect x="930" y="608" width="1" height="52" fill="#c0c0c0"/>
<rect x="938" y="608" width="1" height="50" fill="#c0c0c0"/>
<rect x="946" y="608" width="1" height="44" fill="#c0c0c0"/>
<rect x="954" y="608" width="1" height="49" fill="#c0c0c0"/>
<rect x="962" y="608" width="1" height="52" fill="#c0c0c0"/>
<rect x="970" y="608" width="1" height="50" fill="#c0c0c0"/>
<rect x="978" y="608" width="1" height="47" fill="#c0c0c0"/>
<rect x="986" y="608" width="1" height="42" fill="#c0c0c0"/>
<rect x="994" y="608" width="1" height="34" fill="#c0c0c0"/>
<rect x="1002" y="608" width="1" height="51" fill="#c0c0c0"/>
<rect x="1010" y="608" width="1" height="54" fill="#c0c0c0"/>
<rect x="1018" y="608" width="1" height="52" fill="#c0c0c0"/>
<rect x="1026" y="608" width="1" height="47" fill="#c0c0c0"/>
<rect x="1034" y="608" width="1" height="40" fill="#c0c0c0"/>
<rect x="1042" y="608" width="1" height="35" fill="#c0c0c0"/>
<rect x="1050" y="608" width="1" height="32" fill="#c0c0c0"/>
<rect x="1058" y="608" width="1" height="36" fill="#c0c0c0"/>
<rect x="1066" y="608" width="1" height="40" fill="#c0c0c0"/>
<rect x="1074" y="608" width="1" height="38" fill="#c0c0c0"/>
<rect x="1082" y="608" width="1" height="38" fill="#c0c0c0"/>
<rect x="1090" y="608" width="1" height="29" fill="#c0c0c0"/>
<rect x="1098" y="608" width="1" height="26" fill="#c0c0c0"/>
<rect x="1106" y="608" width="1" height="24" fill="#c0c0c0"/>
<rect x="1114" y="608" width="1" height="23" fill="#c0c0c0"/>
<rect x="1122" y="608" width="1" height="26" fill="#c0c0c0"/>
<rect x="1130" y="608" width="1" height="29" fill="#c0c0c0"/>
<rect x="1138" y="608" width="1" height="32" fill="#c0c0c0"/>
<rect x="1146" y="608" width="1" height="46" fill="#c0c0c0"/>
<rect x="1154" y="608" width="1" height="54" fill="#c0c0c0"/>
<rect x="1162" y="608" width="1" height="58" fill="#c0c0c0"/>
<rect x="1170" y="608" width="1" height="61" fill="#c0c0c0"/>
<rect x="1178" y="608" width="1" height="63" fill="#c0c0c0"/>
<rect x="1186" y="608" width="1" height="56" fill="#c0c0c0"/>
<rect x="1194" y="608" width="1" height="52" fill="#c0c0c0"/>
<rect x="1202" y="608" width="1" height="49" fill="#c0c0c0"/>
<rect x="1210" y="608" width="1" height="43" fill="#c0c0c0"/>
<rect x="1218" y="608" width="1" height="36" fill="#c0c0c0"/>
<rect x="1226" y="608" width="1" height="29" fill="#c0c0c0"/>
<rect x="1234" y="608" width="1" height="30" fill="#c0c0c0"/>
<rect x="1242" y="608" width="1" height="34" fill="#c0c0c0"/>
<rect x="1250" y="608" width="1" height="35" fill="#c0c0c0"/>
<rect x="1258" y="608" width="1" height="33" fill="#c0c0c0"/>
<rect x="1266" y="608" width="1" height="30" fill="#c0c0c0"/>
<rect x="1274" y="608" width="1" height="33" fill="#c0c0c0"/>
<rect x="1282" y="608" width="1" height="39" fill="#c0c0c0"/>
<rect x="1290" y="608" width="1" height="44" fill="#c0c0c0"/>
<rect x="1298" y="608" width="1" height="44" fill="#c0c0c0"/>
<rect x="1306" y="608" width="1" height="48" fill="#c0c0c0"/>
<rect x="1314" y="608" width="1" height="50" fill="#c0c0c0"/>
<rect x="1322" y="608" width="1" height="53" fill="#c0c0c0"/>
<rect x="1330" y="608" width="1" height="57" fill="#c0c0c0"/>
<rect x="1338" y="608" width="1" height="56" fill="#c0c0c0"/>
<rect x="1346" y="608" width="1" height="52" fill="#c0c0c0"/>
<rect x="1354" y="608" width="1" height="47" fill="#c0c0c0"/>
<rect x="1362" y="608" width="1" height="44" fill="#c0c0c0"/>
<rect x="1370" y="608" width="1" height="44" fill="#c0c0c0"/>
<rect x="1378" y="608" width="1" height="42" fill="#c0c0c0"/>
<rect x="1386" y="608" width="1" height="36" fill="#c0c0c0"/>
<rect x="1394" y="608" width="1" height="24" fill="#c0c0c0"/>
<rect x="1402" y="608" width="1" height="16" fill="#c0c0c0"/>
<rect x="1410" y="608" width="1" height="10" fill="#c0c0c0"/>
<rect x="1418" y="608" width="1" height="7" fill="#c0c0c0"/>
<rect x="1426" y="608" width="1" height="5" fill="#c0c0c0"/>
<rect x="1434" y="608" width="1" height="6" fill="#c0c0c0"/>
<rect x="1442" y="608" width="1" height="8" fill="#c0c0c0"/>
<rect x="1450" y="608" width="1" height="10" fill="#c0c0c0"/>
<polyline points="1.3,647.3 10.0,658.5 18.8,667.3 27.5,674.8 35.0,680.3 42.5,684.3 50.0,688.5 58.8,692.8 66.3,695.5 75.0,697.3 86.3,698.5 95.0,697.8 102.5,694.3 112.5,688.5 122.5,680.3 130.0,675.5 137.5,673.0 147.5,674.8 155.0,677.8 162.5,683.5 170.0,691.0 177.5,699.8 185.0,712.3 193.8,726.0 202.5,737.3 210.0,747.3 217.5,752.8 227.5,756.5 235.0,755.3 242.5,751.0 250.0,743.5 260.0,732.3 270.0,719.8 280.0,706.0 290.0,689.8 300.0,675.5 310.0,662.8 320.0,653.5 330.0,648.5 337.5,649.0 347.5,652.3 355.0,659.0 365.0,671.0 372.5,681.0 380.0,691.8 387.5,702.8 395.0,714.0 402.5,724.8 410.0,733.5 418.8,739.8 427.5,742.3 435.0,742.3 445.0,739.3 453.8,735.3 462.5,728.5 475.0,713.5 487.5,698.5 500.0,684.8 512.5,671.0 525.0,658.5 537.5,649.8 550.0,643.5 562.5,637.3 575.0,629.0 587.5,621.5 600.0,611.5 612.5,601.8 625.0,591.8 637.5,582.3 650.0,576.5 660.0,574.3 668.8,574.3 677.5,577.3 687.5,582.3 700.0,589.8 712.5,598.5 725.0,611.0 737.5,622.3 750.0,633.5 762.5,644.8 775.0,654.0 787.5,660.5 800.0,666.5 810.0,669.8 820.0,674.8 830.0,677.8 842.5,680.3 855.0,683.0 867.5,686.0 880.0,687.8 890.0,689.0 900.0,688.0 912.5,686.0 925.0,682.3 937.5,677.3 950.0,671.5 962.5,666.0 975.0,661.5 987.5,657.3 1000.0,655.5 1012.5,655.5 1020.0,656.5 1032.5,655.5 1045.0,652.3 1057.5,651.5 1070.0,651.0 1082.5,648.0 1095.0,644.8 1105.0,641.8 1117.5,640.3 1130.0,639.0 1142.5,638.5 1152.5,640.3 1165.0,645.3 1177.5,651.5 1187.5,656.0 1197.5,658.0 1207.5,662.3 1217.5,661.0 1230.0,657.3 1242.5,652.8 1255.0,649.0 1267.5,644.8 1280.0,643.5 1292.5,643.5 1305.0,646.0 1317.5,648.5 1327.5,649.8 1337.5,653.5 1347.5,657.3 1360.0,658.0 1372.5,657.8 1382.5,656.5 1392.5,653.5 1402.5,648.5 1412.5,641.0 1422.5,635.5 1432.5,629.0 1442.5,623.5 1451.3,621.5" fill="none" stroke="#ff0000" stroke-width="1" stroke-dasharray="3 3"/>
</g>
<polyline points="1168.8,675.5 1261.3,636.0 1335.0,669.8 1426.3,606.0 1460.9,623.3" fill="none" stroke="#ff0000" stroke-width="2.7" stroke-linejoin="round" shape-rendering="crispEdges"/>
<polygon points="1261.3,636.0 1252.2,644.5 1248.9,636.6" fill="#ff0000" shape-rendering="crispEdges"/>
<polygon points="1335.0,669.8 1322.6,668.8 1326.2,661.0" fill="#ff0000" shape-rendering="crispEdges"/>
<polygon points="1426.3,606.0 1419.2,616.2 1414.2,609.2" fill="#ff0000" shape-rendering="crispEdges"/>
<polygon points="1466.3,626.0 1453.9,624.6 1457.8,616.9" fill="#ff0000" shape-rendering="crispEdges"/>
</g>
<g clip-path="url(#cRsi)">
<g shape-rendering="crispEdges">
<line x1="0" y1="808.5" x2="1645" y2="808.5" stroke="#c0c0c0" stroke-width="1" stroke-dasharray="3 3" stroke-dashoffset="1"/>
<line x1="0" y1="850.5" x2="1645" y2="850.5" stroke="#c0c0c0" stroke-width="1" stroke-dasharray="3 3" stroke-dashoffset="1"/>
<line x1="0" y1="899.5" x2="1645" y2="899.5" stroke="#c0c0c0" stroke-width="1" stroke-dasharray="3 3" stroke-dashoffset="1"/>
<polyline points="2.0,872.0 10.0,873.3 18.0,874.3 26.0,870.3 34.0,873.3 42.0,881.3 50.0,879.3 58.0,879.3 66.0,871.3 74.0,874.3 82.0,859.0 90.0,857.0 98.0,849.3 106.0,845.0 114.0,855.0 122.0,857.3 130.0,862.0 138.0,887.0 146.0,883.3 154.0,882.3 162.0,883.3 170.0,881.3 178.0,888.3 186.0,874.3 194.0,875.3 202.0,872.3 210.0,874.3 218.0,873.3 226.0,863.3 234.0,851.0 242.0,852.3 250.0,850.0 258.0,852.3 266.0,849.3 274.0,848.0 282.0,854.3 290.0,850.0 298.0,851.3 306.0,852.0 314.0,853.3 322.0,865.3 330.0,873.3 338.0,883.3 346.0,883.3 354.0,884.3 362.0,886.3 370.0,883.3 378.0,884.3 386.0,888.3 394.0,888.7 402.0,888.7 410.0,875.0 418.0,873.3 426.0,873.3 434.0,864.7 442.0,863.0 450.0,858.3 458.0,858.0 466.0,852.3 474.0,856.0 482.0,857.3 490.0,864.3 498.0,853.3 506.0,842.3 514.0,849.3 522.0,857.3 530.0,854.3 538.0,856.0 546.0,859.3 554.0,847.0 562.0,845.0 570.0,841.0 578.0,835.7 586.0,834.3 594.0,833.3 602.0,828.3 610.0,838.0 618.0,843.0 626.0,837.7 634.0,836.3 642.0,842.0 650.0,840.3 658.0,856.3 666.0,852.3 674.0,857.0 682.0,861.3 690.0,860.3 698.0,862.3 706.0,856.3 714.0,869.3 722.0,872.7 730.0,867.3 738.0,867.3 746.0,866.3 754.0,877.3 762.0,871.3 770.0,866.3 778.0,868.0 786.0,869.3 794.0,869.3 802.0,869.3 810.0,880.3 818.0,882.7 826.0,877.3 834.0,867.3 842.0,867.3 850.0,874.3 858.0,875.7 866.0,874.3 874.0,876.3 882.0,879.7 890.0,879.7 898.0,864.0 906.0,860.3 914.0,861.3 922.0,857.3 930.0,859.3 938.0,861.3 946.0,854.7 954.0,871.3 962.0,872.7 970.0,861.3 978.0,858.0 986.0,854.0 994.0,849.3 1002.0,878.3 1010.0,861.3 1018.0,858.0 1026.0,853.3 1034.0,852.0 1042.0,850.0 1050.0,853.3 1058.0,862.3 1066.0,862.3 1074.0,856.3 1082.0,859.3 1090.0,846.3 1098.0,852.3 1106.0,854.3 1114.0,854.3 1122.0,857.3 1130.0,860.3 1138.0,861.3 1146.0,873.3 1154.0,868.3 1162.0,867.0 1170.0,867.0 1178.0,868.3 1186.0,851.3 1194.0,862.0 1202.0,856.3 1210.0,854.3 1218.0,848.3 1226.0,848.0 1234.0,856.3 1242.0,861.3 1250.0,860.3 1258.0,858.3 1266.0,852.3 1274.0,858.3 1282.0,865.3 1290.0,865.3 1298.0,858.3 1306.0,864.3 1314.0,865.3 1322.0,866.3 1330.0,870.3 1338.0,864.0 1346.0,859.0 1354.0,854.0 1362.0,853.3 1370.0,858.3 1378.0,863.3 1386.0,851.3 1394.0,840.0 1402.0,839.3 1410.0,844.3 1418.0,851.3 1426.0,842.3 1434.0,849.3 1442.0,856.0 1450.0,857.7" fill="none" stroke="#1e90ff" stroke-width="1"/>
</g>
<polyline points="1320.0,872.7 1391.7,838.7 1449.2,855.3" fill="none" stroke="#ff0000" stroke-width="2.7" stroke-linejoin="round" shape-rendering="crispEdges"/>
<polygon points="1391.7,838.7 1383.0,847.6 1379.3,839.8" fill="#ff0000" shape-rendering="crispEdges"/>
<polygon points="1455.0,857.0 1442.6,857.9 1445.0,849.6" fill="#ff0000" shape-rendering="crispEdges"/>
</g>
<g shape-rendering="crispEdges">
<rect x="1646" y="24" width="2" height="1" fill="#000"/>
<rect x="1646" y="57" width="2" height="1" fill="#000"/>
<rect x="1646" y="90" width="2" height="1" fill="#000"/>
<rect x="1646" y="123" width="2" height="1" fill="#000"/>
<rect x="1646" y="156" width="2" height="1" fill="#000"/>
<rect x="1646" y="189" width="2" height="1" fill="#000"/>
<rect x="1646" y="222" width="2" height="1" fill="#000"/>
<rect x="1646" y="255" width="2" height="1" fill="#000"/>
<rect x="1646" y="288" width="2" height="1" fill="#000"/>
<rect x="1646" y="321" width="2" height="1" fill="#000"/>
<rect x="1646" y="354" width="2" height="1" fill="#000"/>
<rect x="1646" y="387" width="2" height="1" fill="#000"/>
<rect x="1646" y="420" width="2" height="1" fill="#000"/>
<rect x="1646" y="453" width="2" height="1" fill="#000"/>
<rect x="1646" y="486" width="2" height="1" fill="#000"/>
<rect x="1646" y="519" width="2" height="1" fill="#000"/>
<rect x="1646" y="552" width="2" height="1" fill="#000"/>
</g>
<text x="1651.5" y="27.9" font-size="10.2" fill="#000" textLength="32.3" lengthAdjust="spacingAndGlyphs" >1.37220</text>
<text x="1651.5" y="60.9" font-size="10.2" fill="#000" textLength="32.3" lengthAdjust="spacingAndGlyphs" >1.36870</text>
<text x="1651.5" y="93.9" font-size="10.2" fill="#000" textLength="32.3" lengthAdjust="spacingAndGlyphs" >1.36510</text>
<text x="1651.5" y="126.9" font-size="10.2" fill="#000" textLength="32.3" lengthAdjust="spacingAndGlyphs" >1.36150</text>
<text x="1651.5" y="159.9" font-size="10.2" fill="#000" textLength="32.3" lengthAdjust="spacingAndGlyphs" >1.35790</text>
<text x="1651.5" y="192.9" font-size="10.2" fill="#000" textLength="32.3" lengthAdjust="spacingAndGlyphs" >1.35440</text>
<text x="1651.5" y="225.9" font-size="10.2" fill="#000" textLength="32.3" lengthAdjust="spacingAndGlyphs" >1.35080</text>
<text x="1651.5" y="258.9" font-size="10.2" fill="#000" textLength="32.3" lengthAdjust="spacingAndGlyphs" >1.34720</text>
<text x="1651.5" y="291.9" font-size="10.2" fill="#000" textLength="32.3" lengthAdjust="spacingAndGlyphs" >1.34360</text>
<text x="1651.5" y="324.9" font-size="10.2" fill="#000" textLength="32.3" lengthAdjust="spacingAndGlyphs" >1.34010</text>
<text x="1651.5" y="357.9" font-size="10.2" fill="#000" textLength="32.3" lengthAdjust="spacingAndGlyphs" >1.33650</text>
<text x="1651.5" y="390.9" font-size="10.2" fill="#000" textLength="32.3" lengthAdjust="spacingAndGlyphs" >1.33290</text>
<text x="1651.5" y="423.9" font-size="10.2" fill="#000" textLength="32.3" lengthAdjust="spacingAndGlyphs" >1.32930</text>
<text x="1651.5" y="456.9" font-size="10.2" fill="#000" textLength="32.3" lengthAdjust="spacingAndGlyphs" >1.32580</text>
<text x="1651.5" y="489.9" font-size="10.2" fill="#000" textLength="32.3" lengthAdjust="spacingAndGlyphs" >1.32220</text>
<text x="1651.5" y="522.9" font-size="10.2" fill="#000" textLength="32.3" lengthAdjust="spacingAndGlyphs" >1.31860</text>
<text x="1651.5" y="555.9" font-size="10.2" fill="#000" textLength="32.3" lengthAdjust="spacingAndGlyphs" >1.31510</text>
<rect x="1647" y="415" width="41" height="11" fill="#ff0000" shape-rendering="crispEdges"/>
<text x="1651.5" y="424" font-size="10.2" fill="#fff" textLength="32.3" lengthAdjust="spacingAndGlyphs" >1.32928</text>
<rect x="1647" y="441" width="41" height="11" fill="#ff4500" shape-rendering="crispEdges"/>
<text x="1651.5" y="450" font-size="10.2" fill="#fff" textLength="32.3" lengthAdjust="spacingAndGlyphs" >1.32647</text>
<rect x="1647" y="465" width="41" height="11" fill="#32cd32" shape-rendering="crispEdges"/>
<text x="1651.5" y="474" font-size="10.2" fill="#fff" textLength="32.3" lengthAdjust="spacingAndGlyphs" >1.32386</text>
<rect x="1647" y="490" width="41" height="11" fill="#000000" shape-rendering="crispEdges"/>
<text x="1651.5" y="499" font-size="10.2" fill="#fff" textLength="32.3" lengthAdjust="spacingAndGlyphs" >1.32119</text>
<rect x="1647" y="519" width="41" height="11" fill="#0000ff" shape-rendering="crispEdges"/>
<text x="1651.5" y="528" font-size="10.2" fill="#fff" textLength="32.3" lengthAdjust="spacingAndGlyphs" >1.31796</text>
<rect x="1647" y="542" width="41" height="11" fill="#0000ff" shape-rendering="crispEdges"/>
<text x="1651.5" y="551" font-size="10.2" fill="#fff" textLength="32.3" lengthAdjust="spacingAndGlyphs" >1.31556</text>
<g shape-rendering="crispEdges">
<rect x="1646" y="559" width="1" height="1" fill="#000"/>
<rect x="1646" y="608" width="2" height="1" fill="#000"/>
<rect x="1646" y="775" width="1" height="1" fill="#000"/>
<rect x="1646" y="780" width="1" height="1" fill="#000"/>
<rect x="1646" y="808" width="1" height="1" fill="#000"/>
<rect x="1646" y="850" width="1" height="1" fill="#000"/>
<rect x="1646" y="899" width="1" height="1" fill="#000"/>
<rect x="1646" y="920" width="1" height="1" fill="#000"/>
</g>
<text x="1649" y="567.8" font-size="10.2" fill="#000" textLength="37.5" lengthAdjust="spacingAndGlyphs" >0.001777</text>
<text x="1649" y="612" font-size="10.2" fill="#000" textLength="18.5" lengthAdjust="spacingAndGlyphs" >0.00</text>
<text x="1649" y="772.8" font-size="10.2" fill="#000" textLength="36" lengthAdjust="spacingAndGlyphs" >-0.00602</text>
<text x="1649" y="788.5" font-size="10.2" fill="#000" textLength="15" lengthAdjust="spacingAndGlyphs" >100</text>
<text x="1649" y="812" font-size="10.2" fill="#000" textLength="10" lengthAdjust="spacingAndGlyphs" >80</text>
<text x="1649" y="854" font-size="10.2" fill="#000" textLength="10" lengthAdjust="spacingAndGlyphs" >50</text>
<text x="1649" y="903" font-size="10.2" fill="#000" textLength="10" lengthAdjust="spacingAndGlyphs" >15</text>
<text x="1649" y="918" font-size="10.2" fill="#000" textLength="5" lengthAdjust="spacingAndGlyphs" >0</text>
<g shape-rendering="crispEdges">
<rect x="50" y="922" width="1" height="4" fill="#000"/>
<rect x="114" y="922" width="1" height="4" fill="#000"/>
<rect x="178" y="922" width="1" height="4" fill="#000"/>
<rect x="242" y="922" width="1" height="4" fill="#000"/>
<rect x="306" y="922" width="1" height="4" fill="#000"/>
<rect x="370" y="922" width="1" height="4" fill="#000"/>
<rect x="434" y="922" width="1" height="4" fill="#000"/>
<rect x="498" y="922" width="1" height="4" fill="#000"/>
<rect x="562" y="922" width="1" height="4" fill="#000"/>
<rect x="626" y="922" width="1" height="4" fill="#000"/>
<rect x="690" y="922" width="1" height="4" fill="#000"/>
<rect x="754" y="922" width="1" height="4" fill="#000"/>
<rect x="818" y="922" width="1" height="4" fill="#000"/>
<rect x="882" y="922" width="1" height="4" fill="#000"/>
<rect x="946" y="922" width="1" height="4" fill="#000"/>
<rect x="1010" y="922" width="1" height="4" fill="#000"/>
<rect x="1074" y="922" width="1" height="4" fill="#000"/>
<rect x="1138" y="922" width="1" height="4" fill="#000"/>
<rect x="1202" y="922" width="1" height="4" fill="#000"/>
<rect x="1266" y="922" width="1" height="4" fill="#000"/>
<rect x="1330" y="922" width="1" height="4" fill="#000"/>
<rect x="1394" y="922" width="1" height="4" fill="#000"/>
</g>
<text x="-15" y="934" font-size="9.5" fill="#000" textLength="48" lengthAdjust="spacingAndGlyphs" >1 Nov 2021</text>
<text x="49.5" y="934" font-size="9.5" fill="#000" textLength="51.5" lengthAdjust="spacingAndGlyphs" >2 Nov 16:00</text>
<text x="113.5" y="934" font-size="9.5" fill="#000" textLength="51.5" lengthAdjust="spacingAndGlyphs" >4 Nov 00:00</text>
<text x="177.5" y="934" font-size="9.5" fill="#000" textLength="51.5" lengthAdjust="spacingAndGlyphs" >5 Nov 08:00</text>
<text x="241.5" y="934" font-size="9.5" fill="#000" textLength="51.5" lengthAdjust="spacingAndGlyphs" >8 Nov 16:00</text>
<text x="305.5" y="934" font-size="9.5" fill="#000" textLength="56.7" lengthAdjust="spacingAndGlyphs" >10 Nov 00:00</text>
<text x="369.5" y="934" font-size="9.5" fill="#000" textLength="56.7" lengthAdjust="spacingAndGlyphs" >11 Nov 08:00</text>
<text x="433.5" y="934" font-size="9.5" fill="#000" textLength="56.7" lengthAdjust="spacingAndGlyphs" >12 Nov 16:00</text>
<text x="497.5" y="934" font-size="9.5" fill="#000" textLength="56.7" lengthAdjust="spacingAndGlyphs" >16 Nov 00:00</text>
<text x="561.5" y="934" font-size="9.5" fill="#000" textLength="56.7" lengthAdjust="spacingAndGlyphs" >17 Nov 08:00</text>
<text x="625.5" y="934" font-size="9.5" fill="#000" textLength="56.7" lengthAdjust="spacingAndGlyphs" >18 Nov 16:00</text>
<text x="689.5" y="934" font-size="9.5" fill="#000" textLength="56.7" lengthAdjust="spacingAndGlyphs" >22 Nov 00:00</text>
<text x="753.5" y="934" font-size="9.5" fill="#000" textLength="56.7" lengthAdjust="spacingAndGlyphs" >23 Nov 08:00</text>
<text x="817.5" y="934" font-size="9.5" fill="#000" textLength="56.7" lengthAdjust="spacingAndGlyphs" >24 Nov 16:00</text>
<text x="881.5" y="934" font-size="9.5" fill="#000" textLength="56.7" lengthAdjust="spacingAndGlyphs" >26 Nov 00:00</text>
<text x="945.5" y="934" font-size="9.5" fill="#000" textLength="56.7" lengthAdjust="spacingAndGlyphs" >29 Nov 08:00</text>
<text x="1009.5" y="934" font-size="9.5" fill="#000" textLength="56.7" lengthAdjust="spacingAndGlyphs" >30 Nov 16:00</text>
<text x="1073.5" y="934" font-size="9.5" fill="#000" textLength="49.3" lengthAdjust="spacingAndGlyphs" >2 Dec 00:00</text>
<text x="1137.5" y="934" font-size="9.5" fill="#000" textLength="49.3" lengthAdjust="spacingAndGlyphs" >3 Dec 08:00</text>
<text x="1201.5" y="934" font-size="9.5" fill="#000" textLength="49.3" lengthAdjust="spacingAndGlyphs" >6 Dec 16:00</text>
<text x="1265.5" y="934" font-size="9.5" fill="#000" textLength="49.3" lengthAdjust="spacingAndGlyphs" >8 Dec 00:00</text>
<text x="1329.5" y="934" font-size="9.5" fill="#000" textLength="49.3" lengthAdjust="spacingAndGlyphs" >9 Dec 08:00</text>
<text x="1393.5" y="934" font-size="9.5" fill="#000" textLength="54.3" lengthAdjust="spacingAndGlyphs" >10 Dec 16:00</text>
<text x="-9.5" y="569.8" font-size="9.5" fill="#000" textLength="153.3" lengthAdjust="spacingAndGlyphs" >MACD(12,26,9) -0.000381 -0.000466</text>
<text x="-9" y="791" font-size="9.5" fill="#000" textLength="66.7" lengthAdjust="spacingAndGlyphs" >RSI(14) 44.6786</text>
<text x="1.3" y="32" font-size="9.5" fill="#000" textLength="203.7" lengthAdjust="spacingAndGlyphs" >GBPUSD-,H4  1.32171 1.32201 1.32064 1.32119</text>
<g>
<rect x="0" y="38" width="210" height="61" fill="#fff"/>
<rect x="0" y="40" width="41" height="24" fill="url(#gSell)"/>
<rect x="156" y="40" width="52" height="24" fill="url(#gSell)"/>
<rect x="0" y="64" width="98" height="33" fill="url(#gPrice)"/>
<rect x="100" y="64" width="108" height="33" fill="url(#gPrice)"/>
<rect x="0" y="63" width="37" height="1" fill="#1c1ca0"/><rect x="0" y="64" width="37" height="1" fill="#5a5ae6"/>
<rect x="160" y="63" width="44" height="1" fill="#1c1ca0"/><rect x="160" y="64" width="44" height="1" fill="#5a5ae6"/>
<rect x="43.5" y="40.5" width="110" height="21" fill="#fff" stroke="#a6a6a6" shape-rendering="crispEdges"/>
<rect x="44.5" y="41.5" width="19" height="19" fill="url(#gBtn)" stroke="#c8c8c8" shape-rendering="crispEdges"/>
<rect x="133.5" y="41.5" width="19" height="19" fill="url(#gBtn)" stroke="#c8c8c8" shape-rendering="crispEdges"/>
<rect x="64" y="41" width="1" height="20" fill="#a6a6a6"/><rect x="132" y="41" width="1" height="20" fill="#a6a6a6"/>
<polygon points="50.7,49.3 56,49.3 53.3,52.6" fill="#4a5fb0"/>
<polygon points="139.7,52.3 145,52.3 142.3,49" fill="#4a5fb0"/>
<text x="129.5" y="55" font-size="11.5" fill="#222" textLength="23.5" lengthAdjust="spacingAndGlyphs" text-anchor="end" >1.00</text>
<text x="1.7" y="55.8" font-size="11.3" fill="#fff" textLength="25.3" lengthAdjust="spacingAndGlyphs" >SELL</text>
<text x="169" y="55.8" font-size="11.3" fill="#fff" textLength="24.5" lengthAdjust="spacingAndGlyphs" >BUY</text>
<text x="9.6" y="92" font-size="11.8" fill="#fff" textLength="23.2" lengthAdjust="spacingAndGlyphs" font-weight="bold" >1.32</text>
<text x="119.9" y="92" font-size="11.8" fill="#fff" textLength="23.2" lengthAdjust="spacingAndGlyphs" font-weight="bold" >1.32</text>
<text x="36.5" y="92" font-size="33.4" fill="#fff" textLength="36" lengthAdjust="spacingAndGlyphs" >11</text>
<text x="147" y="92" font-size="33.4" fill="#fff" textLength="36" lengthAdjust="spacingAndGlyphs" >14</text>
<text x="76.3" y="75.9" font-size="10.8" fill="#fff" font-weight="bold" >9</text>
<text x="187" y="75.9" font-size="10.8" fill="#fff" font-weight="bold" >4</text>
</g>
<g>
<rect x="0" y="0" width="1692" height="15" fill="#f0f0f0"/>
<rect x="0" y="15" width="1692" height="1" fill="#e8e8e8"/><rect x="0" y="16" width="1692" height="1" fill="#a4a4a4"/><rect x="0" y="17" width="1692" height="1" fill="#6c6c6c"/>
<g clip-path="url(#cTb)">
<path d="M3.5,8.8 L5,10.4 L3.5,12 L2,10.4 Z" fill="none" stroke="#333" stroke-width="0.8"/>
<rect x="6" y="0" width="1" height="14" fill="#a9a9a9"/>
<path d="M16.5,-1 H26.5 V9.5 H16.5 Z" fill="#fff" stroke="#8a8a8a"/>
<path d="M18.5,2.2 H24 M18.5,4.6 H22" stroke="#9a9a9a" stroke-width="1"/>
<path d="M24.6,2.4 H27.9 V6 H31.8 V9 H27.9 V13.5 H24.6 V9 H20.2 V6 H24.6 Z" fill="#2fbf2f" stroke="#158a15" stroke-width="0.8"/>
<text x="35" y="6.6" font-size="12" fill="#000">新订单</text>
<path d="M83,3.5 L91.5,-3 L99.5,4 L91,10.2 Z" fill="#e9a32c" stroke="#b87412" stroke-width="0.8"/>
<path d="M83.5,5 L91,11.3 L99.3,5.2" fill="none" stroke="#c98a1c" stroke-width="1.2"/>
<rect x="115.5" y="-2" width="7" height="6" fill="#3f93e0" stroke="#2a6fb8" stroke-width="0.8"/>
<path d="M113,11.5 a3.2,3.2 0 0 1 0.6,-6.2 a4.2,4.2 0 0 1 7.8,-0.8 a3.4,3.4 0 0 1 4.6,3.4 a2.2,2.2 0 0 1 -1,3.6 Z" fill="#dfe8f6" stroke="#8ea8cc" stroke-width="0.9"/>
<path d="M142.5,9.5 a7,7 0 0 1 0,-11 M151.5,-1.5 a7,7 0 0 1 0,11" fill="none" stroke="#5b8fd0" stroke-width="1.2"/>
<path d="M144.8,7.5 a4.2,4.2 0 0 1 0,-7 M149.2,0.5 a4.2,4.2 0 0 1 0,7" fill="none" stroke="#7aa6dc" stroke-width="1.1"/>
<path d="M147,2.5 a2.8,2.8 0 0 1 2.6,4 L148,11.5 L146.8,11.5 Z" fill="#3aa84a" stroke="#2a8038" stroke-width="0.6"/>
<ellipse cx="173.5" cy="0.5" rx="7" ry="3.2" fill="#58a0e0" stroke="#2f70b8" stroke-width="0.8"/>
<path d="M166.8,3.5 L171.5,11 L177,9.5 L180,3.8 Z" fill="#f2c230" stroke="#c79416" stroke-width="0.8"/>
<circle cx="178.6" cy="8.3" r="3.9" fill="#e2281e" stroke="#a81410" stroke-width="0.6"/><rect x="177" y="6.8" width="3.2" height="3.2" fill="#fff"/>
<text x="187" y="6.6" font-size="12" fill="#000">自动交易</text>
<rect x="242" y="0" width="1" height="14" fill="#a9a9a9"/>
<line x1="246.5" y1="0" x2="246.5" y2="14" stroke="#9a9a9a" stroke-width="1" stroke-dasharray="1 1"/>
<line x1="248.5" y1="1" x2="248.5" y2="14" stroke="#c4c4c4" stroke-width="1" stroke-dasharray="1 1"/>
<path d="M261.5,0 V11.5 M258,9.5 H272" stroke="#333" stroke-width="1" fill="none"/>
<path d="M263,7 V2.5 H266 V-1" fill="none" stroke="#1f9a35" stroke-width="1.6"/>
<rect x="280" y="0" width="1" height="14" fill="#a9a9a9"/>
<rect x="281" y="0" width="23" height="14" fill="#f9f9f9"/>
<path d="M289.5,0 V11.5 M286,9.5 H300" stroke="#333" stroke-width="1" fill="none"/>
<rect x="293" y="-2" width="4" height="7" fill="#22a83a" stroke="#157a28" stroke-width="0.6"/><path d="M295,5 V8" stroke="#157a28"/>
<path d="M317.5,0 V11.5 M314,9.5 H328" stroke="#333" stroke-width="1" fill="none"/>
<path d="M319,8 C320,0 324,-1 327.5,4.5" fill="none" stroke="#1f9a35" stroke-width="1.2"/>
<rect x="337" y="0" width="1" height="14" fill="#a9a9a9"/>
<circle cx="351.5" cy="2.2" r="4.8" fill="#dcebfb" stroke="#4d86d2" stroke-width="1.4"/>
<path d="M355,6 L360.5,11" stroke="#d9a52a" stroke-width="2.6" stroke-linecap="round"/>
<path d="M348.8,2.2 H354.2" stroke="#2f66b4" stroke-width="1.3"/>
<path d="M351.5,-0.5 V4.9" stroke="#2f66b4" stroke-width="1.3"/>
<circle cx="379.5" cy="2.2" r="4.8" fill="#dcebfb" stroke="#4d86d2" stroke-width="1.4"/>
<path d="M383,6 L388.5,11" stroke="#d9a52a" stroke-width="2.6" stroke-linecap="round"/>
<path d="M376.8,2.2 H382.2" stroke="#2f66b4" stroke-width="1.3"/>
<rect x="402.5" y="-1.5" width="7" height="5" fill="#5b93dd" stroke="#2f66b4" stroke-width="0.8"/><rect x="410.5" y="-1.5" width="7" height="5" fill="#5b93dd" stroke="#2f66b4" stroke-width="0.8"/>
<rect x="402.5" y="5.5" width="7" height="5.5" fill="#5b93dd" stroke="#2f66b4" stroke-width="0.8"/><rect x="410.5" y="5.5" width="7" height="5.5" fill="#7ac058" stroke="#4a9030" stroke-width="0.8"/>
<rect x="404" y="7.5" width="4" height="1.5" fill="#fff"/><rect x="412" y="7.5" width="4" height="1.5" fill="#fff"/>
<rect x="427" y="0" width="1" height="14" fill="#a9a9a9"/>
<rect x="432" y="0" width="1" height="14" fill="#a9a9a9"/>
<path d="M441.5,0 V11.5 M438,9.5 H452" stroke="#333" stroke-width="1" fill="none"/>
<polygon points="444.5,0.5 444.5,7 450,3.7" fill="#2cb040" stroke="#1a8030" stroke-width="0.6"/>
<rect x="460" y="0" width="1" height="14" fill="#a9a9a9"/>
<path d="M469.5,0 V11.5 M466,9.5 H481" stroke="#333" stroke-width="1" fill="none"/>
<path d="M474.5,-1 V8" stroke="#333" stroke-width="1"/><path d="M481,3.3 H476.5 M478.3,1.5 L476.3,3.3 L478.3,5.1" fill="none" stroke="#d02818" stroke-width="1.1"/>
<rect x="488" y="0" width="1" height="14" fill="#a9a9a9"/>
<path d="M499.5,-1 H507.5 V8 H499.5 Z" fill="#fff" stroke="#8a8a8a"/>
<path d="M505.2,1.3 H508.8 V4.4 H512 V8 H508.8 V11.2 H505.2 V8 H502 V4.4 H505.2 Z" fill="#2fbf2f" stroke="#158a15" stroke-width="0.8"/>
<polygon points="521,2.5 526,2.5 523.5,5.3" fill="#111"/>
<circle cx="544.5" cy="2.8" r="6.8" fill="#e9f1fb" stroke="#2f6fd0" stroke-width="2.4"/><path d="M544.5,-1 V3 H547.5" fill="none" stroke="#667" stroke-width="1"/>
<polygon points="560,2.5 565,2.5 562.5,5.3" fill="#111"/>
<rect x="576.5" y="-1.5" width="15" height="11.5" fill="#fff" stroke="#3e7ed0" stroke-width="1.6"/>
<path d="M578.5,3 L582,1.5 L585,2.8 L589.5,0.8" fill="none" stroke="#d0421e" stroke-width="1.1"/><path d="M578.5,7.2 L582,5.8 L585,7.5 L589.5,5.6" fill="none" stroke="#2c9a3a" stroke-width="1.1"/>
<polygon points="599,2.5 604,2.5 601.5,5.3" fill="#111"/>
<rect x="611" y="0" width="1" height="14" fill="#a9a9a9"/>
<line x1="615.5" y1="0" x2="615.5" y2="14" stroke="#9a9a9a" stroke-width="1" stroke-dasharray="1 1"/>
<line x1="617.5" y1="1" x2="617.5" y2="14" stroke="#c4c4c4" stroke-width="1" stroke-dasharray="1 1"/>
<rect x="620" y="0" width="25" height="14" fill="#f9f9f9"/><rect x="620" y="0" width="1" height="14" fill="#b0b0b0"/>
<path d="M628.3,-3 V8.3 L631,5.9 L633.2,10.6 L635,9.8 L632.9,5.3 L636.5,5.2 Z" fill="#222" stroke="#555" stroke-width="0.5"/>
<path d="M660.5,-2 V11 M653,4.5 H668.5" stroke="#333" stroke-width="1"/>
<rect x="677" y="0" width="1" height="14" fill="#a9a9a9"/>
<path d="M694.5,-1 V10.5" stroke="#333"/><path d="M717.5,4.5 H729" stroke="#333"/><path d="M744.6,10.6 L756.6,0" stroke="#333" stroke-width="1.1"/>
<path d="M771.5,9.5 L783.5,-0.5 M771.5,5.5 L780,-1.5 M775,10.5 L785,2" stroke="#444" stroke-width="1"/><path d="M773,7 L777,4 M777,7 L781,3.6" stroke="#777" stroke-width="0.8"/>
<text x="782.3" y="13" font-size="6.5" font-weight="bold" fill="#222">E</text>
<path d="M800,0.5 H812 M800,3.5 H812 M800,6.5 H812 M800,9 H808" stroke="#444" stroke-width="1" stroke-dasharray="1 1"/>
<text x="809.5" y="13" font-size="6.5" font-weight="bold" fill="#222">F</text>
<text x="829.8" y="9" font-size="13" fill="#333">A</text>
<rect x="856.5" y="-2.5" width="11.5" height="12.5" fill="none" stroke="#555" stroke-width="1" stroke-dasharray="1 1"/><text x="858.2" y="8.5" font-size="11.5" fill="#222">T</text>
<path d="M884.5,0 L887.5,3.5 L891,-0.5" fill="none" stroke="#333" stroke-width="1.6"/><path d="M889,5.5 l2.5,-2 l2.5,2 l-2.5,2 Z M892.5,9 l2.5,-2 l2.5,2 l-2.5,2 Z" fill="#333"/>
<polygon points="905,2.5 910,2.5 907.5,5.3" fill="#111"/>
<rect x="916" y="0" width="1" height="14" fill="#a9a9a9"/>
<line x1="920.0" y1="0" x2="920.0" y2="14" stroke="#9a9a9a" stroke-width="1" stroke-dasharray="1 1"/>
<line x1="922.0" y1="1" x2="922.0" y2="14" stroke="#c4c4c4" stroke-width="1" stroke-dasharray="1 1"/>
<rect x="1066" y="0" width="26" height="14" fill="#f9f9f9"/><rect x="1066" y="0" width="1" height="14" fill="#9a9a9a"/>
<text x="931.4" y="7.8" font-size="9.3" fill="#3a3a3a" textLength="13" lengthAdjust="spacingAndGlyphs">M1</text>
<text x="959.1" y="7.8" font-size="9.3" fill="#3a3a3a" textLength="13" lengthAdjust="spacingAndGlyphs">M5</text>
<text x="985.1" y="7.8" font-size="9.3" fill="#3a3a3a" textLength="18.2" lengthAdjust="spacingAndGlyphs">M15</text>
<text x="1013.5" y="7.8" font-size="9.3" fill="#3a3a3a" textLength="18.2" lengthAdjust="spacingAndGlyphs">M30</text>
<text x="1044.2" y="7.8" font-size="9.3" fill="#3a3a3a" textLength="11.8" lengthAdjust="spacingAndGlyphs">H1</text>
<text x="1071.4" y="7.8" font-size="9.3" fill="#3a3a3a" textLength="12.5" lengthAdjust="spacingAndGlyphs">H4</text>
<text x="1100.5" y="7.8" font-size="9.3" fill="#3a3a3a" textLength="11.8" lengthAdjust="spacingAndGlyphs">D1</text>
<text x="1127.4" y="7.8" font-size="9.3" fill="#3a3a3a" textLength="14.9" lengthAdjust="spacingAndGlyphs">W1</text>
<text x="1154.8" y="7.8" font-size="9.3" fill="#3a3a3a" textLength="14.7" lengthAdjust="spacingAndGlyphs">MN</text>
<rect x="1177" y="0" width="1" height="14" fill="#a9a9a9"/>
<circle cx="1647.2" cy="0.8" r="4.2" fill="#f4f7ff" stroke="#2f6cd8" stroke-width="1.3"/><path d="M1644.3,4.2 L1640,8.6" stroke="#2f6cd8" stroke-width="2.6" stroke-linecap="round"/>
<path d="M1665,5 a6,5 0 0 1 11,-3.5 a6,5 0 0 1 -5,8.5 h-2.5 l-2,2 v-2.6 a5,5 0 0 1 -1.5,-4.4 Z" fill="#e6e8f2" stroke="#b4b6be" stroke-width="1"/>
<circle cx="1678.4" cy="1.6" r="8.3" fill="url(#gBadge)"/>
<text x="1678.4" y="5.8" font-size="11" fill="#fff" text-anchor="middle" font-family="'Liberation Serif',serif">1</text>
</g>
</g>
</svg></body></html>
